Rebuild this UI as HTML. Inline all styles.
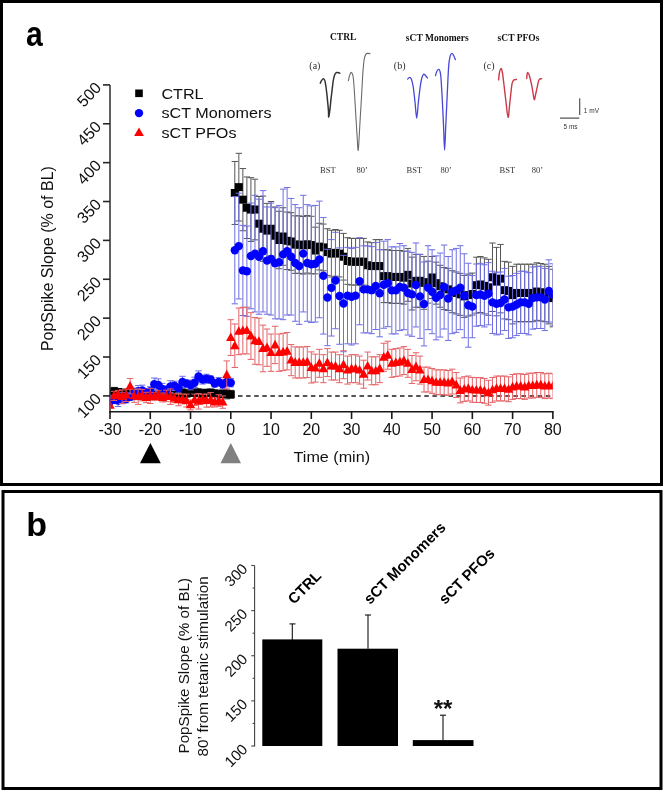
<!DOCTYPE html>
<html><head><meta charset="utf-8"><style>
html,body{margin:0;padding:0;background:#fff;}
body{width:663px;height:790px;overflow:hidden;}
svg{display:block;filter:blur(0.35px);}
.tl{font-family:"Liberation Sans",sans-serif;font-size:15.5px;fill:#111;}
.ty{font-family:"Liberation Sans",sans-serif;font-size:16px;fill:#111;}
.tb{font-family:"Liberation Sans",sans-serif;font-size:15px;fill:#111;}
.sans{font-family:"Liberation Sans",sans-serif;}
.serif{font-family:"Liberation Serif",serif;}
</style></head><body>
<svg width="663" height="790" viewBox="0 0 663 790">
<rect x="0" y="0" width="663" height="790" fill="#fff"/>
<!-- panel frames -->
<rect x="1.5" y="1.5" width="660" height="483" fill="none" stroke="#000" stroke-width="3"/>
<rect x="3" y="491.5" width="658" height="297" fill="none" stroke="#000" stroke-width="3"/>
<text transform="translate(26.1,46.4) scale(0.86,0.98)" class="sans" font-weight="bold" font-size="35" fill="#000">a</text>
<text x="26.2" y="535.5" class="sans" font-weight="bold" font-size="34" fill="#000">b</text>

<!-- y label a -->
<text transform="translate(53.2,258.6) rotate(-90)" text-anchor="middle" class="sans" font-size="16" fill="#111">PopSpike Slope (% of BL)</text>

<line x1="110" y1="84.90" x2="110" y2="412.4" stroke="#505050" stroke-width="1.8"/>
<line x1="109.2" y1="411.7" x2="553.66" y2="411.7" stroke="#1a1a1a" stroke-width="1.6"/>
<line x1="103" y1="395.90" x2="110" y2="395.90" stroke="#262626" stroke-width="1.6"/>
<text transform="translate(102.3,399.70) rotate(-46)" text-anchor="end" class="ty">100</text>
<line x1="103" y1="357.02" x2="110" y2="357.02" stroke="#262626" stroke-width="1.6"/>
<text transform="translate(102.3,360.82) rotate(-46)" text-anchor="end" class="ty">150</text>
<line x1="103" y1="318.15" x2="110" y2="318.15" stroke="#262626" stroke-width="1.6"/>
<text transform="translate(102.3,321.95) rotate(-46)" text-anchor="end" class="ty">200</text>
<line x1="103" y1="279.27" x2="110" y2="279.27" stroke="#262626" stroke-width="1.6"/>
<text transform="translate(102.3,283.07) rotate(-46)" text-anchor="end" class="ty">250</text>
<line x1="103" y1="240.40" x2="110" y2="240.40" stroke="#262626" stroke-width="1.6"/>
<text transform="translate(102.3,244.20) rotate(-46)" text-anchor="end" class="ty">300</text>
<line x1="103" y1="201.52" x2="110" y2="201.52" stroke="#262626" stroke-width="1.6"/>
<text transform="translate(102.3,205.32) rotate(-46)" text-anchor="end" class="ty">350</text>
<line x1="103" y1="162.65" x2="110" y2="162.65" stroke="#262626" stroke-width="1.6"/>
<text transform="translate(102.3,166.45) rotate(-46)" text-anchor="end" class="ty">400</text>
<line x1="103" y1="123.77" x2="110" y2="123.77" stroke="#262626" stroke-width="1.6"/>
<text transform="translate(102.3,127.57) rotate(-46)" text-anchor="end" class="ty">450</text>
<line x1="103" y1="84.90" x2="110" y2="84.90" stroke="#262626" stroke-width="1.6"/>
<text transform="translate(102.3,88.70) rotate(-46)" text-anchor="end" class="ty">500</text>
<line x1="110.00" y1="411.7" x2="110.00" y2="419" stroke="#1a1a1a" stroke-width="1.6"/>
<text x="110.00" y="435.2" text-anchor="middle" class="ty">-30</text>
<line x1="150.26" y1="411.7" x2="150.26" y2="419" stroke="#1a1a1a" stroke-width="1.6"/>
<text x="150.26" y="435.2" text-anchor="middle" class="ty">-20</text>
<line x1="190.52" y1="411.7" x2="190.52" y2="419" stroke="#1a1a1a" stroke-width="1.6"/>
<text x="190.52" y="435.2" text-anchor="middle" class="ty">-10</text>
<line x1="230.78" y1="411.7" x2="230.78" y2="419" stroke="#1a1a1a" stroke-width="1.6"/>
<text x="230.78" y="435.2" text-anchor="middle" class="ty">0</text>
<line x1="271.04" y1="411.7" x2="271.04" y2="419" stroke="#1a1a1a" stroke-width="1.6"/>
<text x="271.04" y="435.2" text-anchor="middle" class="ty">10</text>
<line x1="311.30" y1="411.7" x2="311.30" y2="419" stroke="#1a1a1a" stroke-width="1.6"/>
<text x="311.30" y="435.2" text-anchor="middle" class="ty">20</text>
<line x1="351.56" y1="411.7" x2="351.56" y2="419" stroke="#1a1a1a" stroke-width="1.6"/>
<text x="351.56" y="435.2" text-anchor="middle" class="ty">30</text>
<line x1="391.82" y1="411.7" x2="391.82" y2="419" stroke="#1a1a1a" stroke-width="1.6"/>
<text x="391.82" y="435.2" text-anchor="middle" class="ty">40</text>
<line x1="432.08" y1="411.7" x2="432.08" y2="419" stroke="#1a1a1a" stroke-width="1.6"/>
<text x="432.08" y="435.2" text-anchor="middle" class="ty">50</text>
<line x1="472.34" y1="411.7" x2="472.34" y2="419" stroke="#1a1a1a" stroke-width="1.6"/>
<text x="472.34" y="435.2" text-anchor="middle" class="ty">60</text>
<line x1="512.60" y1="411.7" x2="512.60" y2="419" stroke="#1a1a1a" stroke-width="1.6"/>
<text x="512.60" y="435.2" text-anchor="middle" class="ty">70</text>
<line x1="552.86" y1="411.7" x2="552.86" y2="419" stroke="#1a1a1a" stroke-width="1.6"/>
<text x="552.86" y="435.2" text-anchor="middle" class="ty">80</text>

<text transform="translate(331.8,462.4) scale(1.01,0.93)" text-anchor="middle" class="sans" font-size="16" fill="#111">Time (min)</text>

<!-- arrows -->
<path d="M150.4 443L160.8 463.2L140 463.2Z" fill="#000"/>
<path d="M230.8 443L241 463.2L220.5 463.2Z" fill="#808080"/>

<!-- legend -->
<rect x="135.2" y="89.5" width="7.6" height="7.6" fill="#000"/>
<circle cx="139" cy="113.1" r="4.2" fill="#0000ff"/>
<path d="M139 127.5L143.9 136L134.1 136Z" fill="#ff0000"/>
<text transform="translate(161.4,98.9) scale(1.01,0.89)" class="sans" font-size="16" fill="#111">CTRL</text>
<text transform="translate(161.4,118.1) scale(1.01,0.89)" class="sans" font-size="16" fill="#111">sCT Monomers</text>
<text transform="translate(161.4,137.8) scale(1.01,0.89)" class="sans" font-size="16" fill="#111">sCT PFOs</text>

<!-- insets -->
<g class="serif" font-weight="bold" font-size="9.5" fill="#111" text-anchor="middle">
<text x="343.2" y="40.3">CTRL</text>
<text x="437.3" y="40.5">sCT Monomers</text>
<text x="518.5" y="40.5">sCT PFOs</text>
</g>
<g class="serif" font-size="10" fill="#2e2e2e">
<text x="309.3" y="68.6">(a)</text>
<text x="393.8" y="68.6">(b)</text>
<text x="483.5" y="68.6">(c)</text>
</g>
<g class="serif" font-size="8.5" fill="#333">
<text x="320" y="173">BST</text>
<text x="356.5" y="173">80&#8217;</text>
<text x="406.5" y="173">BST</text>
<text x="440.5" y="173">80&#8217;</text>
<text x="499.5" y="173">BST</text>
<text x="531.8" y="173">80&#8217;</text>
</g>
<g fill="none" stroke-linecap="round" stroke-linejoin="round">
<path d="M320.30 83.20C320.50 82.77 320.98 81.33 321.50 80.60C322.02 79.87 322.83 78.75 323.40 78.80C323.97 78.85 324.47 79.53 324.90 80.90C325.33 82.27 325.65 84.58 326.00 87.00C326.35 89.42 326.68 92.48 327.00 95.40C327.32 98.32 327.65 101.85 327.90 104.50C328.15 107.15 328.37 109.22 328.50 111.30C328.63 113.38 328.48 117.12 328.70 117.00C328.92 116.88 329.42 113.57 329.80 110.60C330.18 107.63 330.62 102.63 331.00 99.20C331.38 95.77 331.73 93.03 332.10 90.00C332.47 86.97 332.78 83.52 333.20 81.00C333.62 78.48 334.08 76.30 334.60 74.90C335.12 73.50 335.77 72.98 336.30 72.60C336.83 72.22 337.23 72.50 337.80 72.60C338.37 72.70 339.38 73.10 339.70 73.20" stroke="#333" stroke-width="1.5"/><path d="M348.40 80.60C348.62 79.68 349.20 76.47 349.70 75.10C350.20 73.73 350.83 72.17 351.40 72.40C351.97 72.63 352.63 73.78 353.10 76.50C353.57 79.22 353.85 83.95 354.20 88.70C354.55 93.45 354.82 98.67 355.20 105.00C355.58 111.33 356.12 120.37 356.50 126.70C356.88 133.03 357.22 139.05 357.50 143.00C357.78 146.95 357.95 150.85 358.20 150.40C358.45 149.95 358.67 145.60 359.00 140.30C359.33 135.00 359.77 126.07 360.20 118.60C360.63 111.13 361.15 103.20 361.60 95.50C362.05 87.80 362.45 78.50 362.90 72.40C363.35 66.30 363.78 61.95 364.30 58.90C364.82 55.85 365.37 55.02 366.00 54.10C366.63 53.18 367.42 53.47 368.10 53.40C368.78 53.33 369.77 53.65 370.10 53.70" stroke="#6a6a6a" stroke-width="1.1"/><path d="M407.70 79.10C408.00 78.80 408.90 77.32 409.50 77.30C410.10 77.28 410.68 77.42 411.30 79.00C411.92 80.58 412.58 82.97 413.20 86.80C413.82 90.63 414.42 96.78 415.00 102.00C415.58 107.22 416.13 118.10 416.70 118.10C417.27 118.10 417.82 107.22 418.40 102.00C418.98 96.78 419.63 90.80 420.20 86.80C420.77 82.80 421.22 80.10 421.80 78.00C422.38 75.90 423.08 74.62 423.70 74.20C424.32 73.78 424.88 74.87 425.50 75.50C426.12 76.13 427.08 77.58 427.40 78.00" stroke="#4848d8" stroke-width="1.3"/><path d="M435.50 75.60C435.75 74.83 436.42 72.03 437.00 71.00C437.58 69.97 438.45 69.15 439.00 69.40C439.55 69.65 439.95 70.77 440.30 72.50C440.65 74.23 440.77 75.22 441.10 79.80C441.43 84.38 441.90 92.47 442.30 100.00C442.70 107.53 443.12 116.63 443.50 125.00C443.88 133.37 444.22 150.20 444.60 150.20C444.98 150.20 445.37 134.20 445.80 125.00C446.23 115.80 446.72 104.85 447.20 95.00C447.68 85.15 448.20 72.40 448.70 65.90C449.20 59.40 449.67 58.08 450.20 56.00C450.73 53.92 451.33 53.48 451.90 53.40C452.47 53.32 453.02 54.47 453.60 55.50C454.18 56.53 455.10 58.92 455.40 59.60" stroke="#4848d8" stroke-width="1.3"/><path d="M498.60 79.90C498.73 78.75 499.02 74.88 499.40 73.00C499.78 71.12 500.42 68.77 500.90 68.60C501.38 68.43 501.78 69.27 502.30 72.00C502.82 74.73 503.38 80.00 504.00 85.00C504.62 90.00 505.32 96.60 506.00 102.00C506.68 107.40 507.47 117.23 508.10 117.40C508.73 117.57 509.20 108.27 509.80 103.00C510.40 97.73 511.20 89.38 511.70 85.80C512.20 82.22 512.42 82.48 512.80 81.50C513.18 80.52 513.40 80.25 514.00 79.90C514.60 79.55 516.00 79.48 516.40 79.40" stroke="#cc3a48" stroke-width="1.4"/><path d="M526.70 78.50C526.75 77.92 526.82 75.98 527.00 75.00C527.18 74.02 527.38 72.43 527.80 72.60C528.22 72.77 528.87 73.95 529.50 76.00C530.13 78.05 531.02 82.07 531.60 84.90C532.18 87.73 532.55 90.52 533.00 93.00C533.45 95.48 533.85 99.63 534.30 99.80C534.75 99.97 535.23 96.03 535.70 94.00C536.17 91.97 536.68 89.52 537.10 87.60C537.52 85.68 537.83 83.87 538.20 82.50C538.57 81.13 538.73 80.03 539.30 79.40C539.87 78.77 541.22 78.82 541.60 78.70" stroke="#cc3a48" stroke-width="1.4"/>
</g>
<!-- scale bar -->
<path d="M579.7 98.3V115M560 118.2H579.3" stroke="#555" stroke-width="1.2" fill="none"/>
<text x="583.8" y="112.6" class="sans" font-size="6.5" fill="#333">1 mV</text>
<text x="563.5" y="129.4" class="sans" font-size="6.5" fill="#333">5 ms</text>

<!-- data -->
<defs><clipPath id="pc"><rect x="110.6" y="60" width="442.1" height="351"/></clipPath></defs>
<g clip-path="url(#pc)">
<line x1="238" y1="395.90" x2="553" y2="395.90" stroke="#555" stroke-width="2" stroke-dasharray="4.5 3.6"/>
<g stroke="#555" stroke-width="1"><line x1="110.00" y1="392.79" x2="110.00" y2="389.25"/><line x1="106.80" y1="389.25" x2="113.20" y2="389.25"/><line x1="110.00" y1="392.79" x2="110.00" y2="396.33"/><line x1="106.80" y1="396.33" x2="113.20" y2="396.33"/><line x1="114.03" y1="391.23" x2="114.03" y2="387.38"/><line x1="110.83" y1="387.38" x2="117.23" y2="387.38"/><line x1="114.03" y1="391.23" x2="114.03" y2="395.09"/><line x1="110.83" y1="395.09" x2="117.23" y2="395.09"/><line x1="118.05" y1="392.01" x2="118.05" y2="389.14"/><line x1="114.85" y1="389.14" x2="121.25" y2="389.14"/><line x1="118.05" y1="392.01" x2="118.05" y2="394.88"/><line x1="114.85" y1="394.88" x2="121.25" y2="394.88"/><line x1="122.08" y1="392.79" x2="122.08" y2="389.11"/><line x1="118.88" y1="389.11" x2="125.28" y2="389.11"/><line x1="122.08" y1="392.79" x2="122.08" y2="396.47"/><line x1="118.88" y1="396.47" x2="125.28" y2="396.47"/><line x1="126.10" y1="393.57" x2="126.10" y2="391.03"/><line x1="122.90" y1="391.03" x2="129.30" y2="391.03"/><line x1="126.10" y1="393.57" x2="126.10" y2="396.11"/><line x1="122.90" y1="396.11" x2="129.30" y2="396.11"/><line x1="130.13" y1="394.34" x2="130.13" y2="391.29"/><line x1="126.93" y1="391.29" x2="133.33" y2="391.29"/><line x1="130.13" y1="394.34" x2="130.13" y2="397.40"/><line x1="126.93" y1="397.40" x2="133.33" y2="397.40"/><line x1="134.16" y1="395.12" x2="134.16" y2="390.73"/><line x1="130.96" y1="390.73" x2="137.36" y2="390.73"/><line x1="134.16" y1="395.12" x2="134.16" y2="399.52"/><line x1="130.96" y1="399.52" x2="137.36" y2="399.52"/><line x1="138.18" y1="395.12" x2="138.18" y2="390.63"/><line x1="134.98" y1="390.63" x2="141.38" y2="390.63"/><line x1="138.18" y1="395.12" x2="138.18" y2="399.61"/><line x1="134.98" y1="399.61" x2="141.38" y2="399.61"/><line x1="142.21" y1="394.34" x2="142.21" y2="390.77"/><line x1="139.01" y1="390.77" x2="145.41" y2="390.77"/><line x1="142.21" y1="394.34" x2="142.21" y2="397.92"/><line x1="139.01" y1="397.92" x2="145.41" y2="397.92"/><line x1="146.23" y1="395.12" x2="146.23" y2="391.15"/><line x1="143.03" y1="391.15" x2="149.43" y2="391.15"/><line x1="146.23" y1="395.12" x2="146.23" y2="399.10"/><line x1="143.03" y1="399.10" x2="149.43" y2="399.10"/><line x1="150.26" y1="395.12" x2="150.26" y2="392.42"/><line x1="147.06" y1="392.42" x2="153.46" y2="392.42"/><line x1="150.26" y1="395.12" x2="150.26" y2="397.83"/><line x1="147.06" y1="397.83" x2="153.46" y2="397.83"/><line x1="154.29" y1="394.34" x2="154.29" y2="390.66"/><line x1="151.09" y1="390.66" x2="157.49" y2="390.66"/><line x1="154.29" y1="394.34" x2="154.29" y2="398.03"/><line x1="151.09" y1="398.03" x2="157.49" y2="398.03"/><line x1="158.31" y1="394.34" x2="158.31" y2="389.72"/><line x1="155.11" y1="389.72" x2="161.51" y2="389.72"/><line x1="158.31" y1="394.34" x2="158.31" y2="398.97"/><line x1="155.11" y1="398.97" x2="161.51" y2="398.97"/><line x1="162.34" y1="395.12" x2="162.34" y2="392.50"/><line x1="159.14" y1="392.50" x2="165.54" y2="392.50"/><line x1="162.34" y1="395.12" x2="162.34" y2="397.75"/><line x1="159.14" y1="397.75" x2="165.54" y2="397.75"/><line x1="166.36" y1="395.90" x2="166.36" y2="392.35"/><line x1="163.16" y1="392.35" x2="169.56" y2="392.35"/><line x1="166.36" y1="395.90" x2="166.36" y2="399.45"/><line x1="163.16" y1="399.45" x2="169.56" y2="399.45"/><line x1="170.39" y1="395.12" x2="170.39" y2="392.72"/><line x1="167.19" y1="392.72" x2="173.59" y2="392.72"/><line x1="170.39" y1="395.12" x2="170.39" y2="397.53"/><line x1="167.19" y1="397.53" x2="173.59" y2="397.53"/><line x1="174.42" y1="394.34" x2="174.42" y2="390.73"/><line x1="171.22" y1="390.73" x2="177.62" y2="390.73"/><line x1="174.42" y1="394.34" x2="174.42" y2="397.96"/><line x1="171.22" y1="397.96" x2="177.62" y2="397.96"/><line x1="178.44" y1="393.57" x2="178.44" y2="388.95"/><line x1="175.24" y1="388.95" x2="181.64" y2="388.95"/><line x1="178.44" y1="393.57" x2="178.44" y2="398.19"/><line x1="175.24" y1="398.19" x2="181.64" y2="398.19"/><line x1="182.47" y1="392.79" x2="182.47" y2="388.23"/><line x1="179.27" y1="388.23" x2="185.67" y2="388.23"/><line x1="182.47" y1="392.79" x2="182.47" y2="397.35"/><line x1="179.27" y1="397.35" x2="185.67" y2="397.35"/><line x1="186.49" y1="393.57" x2="186.49" y2="390.58"/><line x1="183.29" y1="390.58" x2="189.69" y2="390.58"/><line x1="186.49" y1="393.57" x2="186.49" y2="396.56"/><line x1="183.29" y1="396.56" x2="189.69" y2="396.56"/><line x1="190.52" y1="392.79" x2="190.52" y2="389.50"/><line x1="187.32" y1="389.50" x2="193.72" y2="389.50"/><line x1="190.52" y1="392.79" x2="190.52" y2="396.08"/><line x1="187.32" y1="396.08" x2="193.72" y2="396.08"/><line x1="194.55" y1="392.01" x2="194.55" y2="387.62"/><line x1="191.35" y1="387.62" x2="197.75" y2="387.62"/><line x1="194.55" y1="392.01" x2="194.55" y2="396.40"/><line x1="191.35" y1="396.40" x2="197.75" y2="396.40"/><line x1="198.57" y1="392.79" x2="198.57" y2="388.60"/><line x1="195.37" y1="388.60" x2="201.77" y2="388.60"/><line x1="198.57" y1="392.79" x2="198.57" y2="396.98"/><line x1="195.37" y1="396.98" x2="201.77" y2="396.98"/><line x1="202.60" y1="393.57" x2="202.60" y2="389.81"/><line x1="199.40" y1="389.81" x2="205.80" y2="389.81"/><line x1="202.60" y1="393.57" x2="202.60" y2="397.32"/><line x1="199.40" y1="397.32" x2="205.80" y2="397.32"/><line x1="206.62" y1="392.79" x2="206.62" y2="389.36"/><line x1="203.42" y1="389.36" x2="209.82" y2="389.36"/><line x1="206.62" y1="392.79" x2="206.62" y2="396.22"/><line x1="203.42" y1="396.22" x2="209.82" y2="396.22"/><line x1="210.65" y1="392.79" x2="210.65" y2="388.88"/><line x1="207.45" y1="388.88" x2="213.85" y2="388.88"/><line x1="210.65" y1="392.79" x2="210.65" y2="396.70"/><line x1="207.45" y1="396.70" x2="213.85" y2="396.70"/><line x1="214.68" y1="393.57" x2="214.68" y2="389.81"/><line x1="211.48" y1="389.81" x2="217.88" y2="389.81"/><line x1="214.68" y1="393.57" x2="214.68" y2="397.32"/><line x1="211.48" y1="397.32" x2="217.88" y2="397.32"/><line x1="218.70" y1="394.34" x2="218.70" y2="391.67"/><line x1="215.50" y1="391.67" x2="221.90" y2="391.67"/><line x1="218.70" y1="394.34" x2="218.70" y2="397.02"/><line x1="215.50" y1="397.02" x2="221.90" y2="397.02"/><line x1="222.73" y1="393.57" x2="222.73" y2="390.06"/><line x1="219.53" y1="390.06" x2="225.93" y2="390.06"/><line x1="222.73" y1="393.57" x2="222.73" y2="397.07"/><line x1="219.53" y1="397.07" x2="225.93" y2="397.07"/><line x1="226.75" y1="394.34" x2="226.75" y2="389.74"/><line x1="223.55" y1="389.74" x2="229.95" y2="389.74"/><line x1="226.75" y1="394.34" x2="226.75" y2="398.95"/><line x1="223.55" y1="398.95" x2="229.95" y2="398.95"/><line x1="230.78" y1="394.34" x2="230.78" y2="390.33"/><line x1="227.58" y1="390.33" x2="233.98" y2="390.33"/><line x1="230.78" y1="394.34" x2="230.78" y2="398.36"/><line x1="227.58" y1="398.36" x2="233.98" y2="398.36"/><line x1="234.81" y1="192.97" x2="234.81" y2="161.48"/><line x1="231.61" y1="161.48" x2="238.01" y2="161.48"/><line x1="234.81" y1="192.97" x2="234.81" y2="224.46"/><line x1="231.61" y1="224.46" x2="238.01" y2="224.46"/><line x1="238.83" y1="187.14" x2="238.83" y2="153.32"/><line x1="235.63" y1="153.32" x2="242.03" y2="153.32"/><line x1="238.83" y1="187.14" x2="238.83" y2="220.96"/><line x1="235.63" y1="220.96" x2="242.03" y2="220.96"/><line x1="242.86" y1="199.66" x2="242.86" y2="168.56"/><line x1="239.66" y1="168.56" x2="246.06" y2="168.56"/><line x1="242.86" y1="199.66" x2="242.86" y2="230.76"/><line x1="239.66" y1="230.76" x2="246.06" y2="230.76"/><line x1="246.88" y1="207.74" x2="246.88" y2="176.96"/><line x1="243.68" y1="176.96" x2="250.08" y2="176.96"/><line x1="246.88" y1="207.74" x2="246.88" y2="238.53"/><line x1="243.68" y1="238.53" x2="250.08" y2="238.53"/><line x1="250.91" y1="209.53" x2="250.91" y2="177.66"/><line x1="247.71" y1="177.66" x2="254.11" y2="177.66"/><line x1="250.91" y1="209.53" x2="250.91" y2="241.41"/><line x1="247.71" y1="241.41" x2="254.11" y2="241.41"/><line x1="254.94" y1="209.53" x2="254.94" y2="179.21"/><line x1="251.74" y1="179.21" x2="258.14" y2="179.21"/><line x1="254.94" y1="209.53" x2="254.94" y2="239.86"/><line x1="251.74" y1="239.86" x2="258.14" y2="239.86"/><line x1="258.96" y1="223.68" x2="258.96" y2="196.47"/><line x1="255.76" y1="196.47" x2="262.16" y2="196.47"/><line x1="258.96" y1="223.68" x2="258.96" y2="250.90"/><line x1="255.76" y1="250.90" x2="262.16" y2="250.90"/><line x1="262.99" y1="228.74" x2="262.99" y2="196.08"/><line x1="259.79" y1="196.08" x2="266.19" y2="196.08"/><line x1="262.99" y1="228.74" x2="262.99" y2="261.39"/><line x1="259.79" y1="261.39" x2="266.19" y2="261.39"/><line x1="267.01" y1="230.60" x2="267.01" y2="203.39"/><line x1="263.81" y1="203.39" x2="270.21" y2="203.39"/><line x1="267.01" y1="230.60" x2="267.01" y2="257.82"/><line x1="263.81" y1="257.82" x2="270.21" y2="257.82"/><line x1="271.04" y1="228.74" x2="271.04" y2="201.52"/><line x1="267.84" y1="201.52" x2="274.24" y2="201.52"/><line x1="271.04" y1="228.74" x2="271.04" y2="255.95"/><line x1="267.84" y1="255.95" x2="274.24" y2="255.95"/><line x1="275.07" y1="235.73" x2="275.07" y2="206.97"/><line x1="271.87" y1="206.97" x2="278.27" y2="206.97"/><line x1="275.07" y1="235.73" x2="275.07" y2="264.50"/><line x1="271.87" y1="264.50" x2="278.27" y2="264.50"/><line x1="279.09" y1="240.01" x2="279.09" y2="211.24"/><line x1="275.89" y1="211.24" x2="282.29" y2="211.24"/><line x1="279.09" y1="240.01" x2="279.09" y2="268.78"/><line x1="275.89" y1="268.78" x2="282.29" y2="268.78"/><line x1="283.12" y1="236.51" x2="283.12" y2="207.74"/><line x1="279.92" y1="207.74" x2="286.32" y2="207.74"/><line x1="283.12" y1="236.51" x2="283.12" y2="265.28"/><line x1="279.92" y1="265.28" x2="286.32" y2="265.28"/><line x1="287.14" y1="240.79" x2="287.14" y2="212.02"/><line x1="283.94" y1="212.02" x2="290.34" y2="212.02"/><line x1="287.14" y1="240.79" x2="287.14" y2="269.56"/><line x1="283.94" y1="269.56" x2="290.34" y2="269.56"/><line x1="291.17" y1="241.49" x2="291.17" y2="212.72"/><line x1="287.97" y1="212.72" x2="294.37" y2="212.72"/><line x1="291.17" y1="241.49" x2="291.17" y2="270.26"/><line x1="287.97" y1="270.26" x2="294.37" y2="270.26"/><line x1="295.20" y1="244.60" x2="295.20" y2="215.83"/><line x1="292.00" y1="215.83" x2="298.40" y2="215.83"/><line x1="295.20" y1="244.60" x2="295.20" y2="273.37"/><line x1="292.00" y1="273.37" x2="298.40" y2="273.37"/><line x1="299.22" y1="244.60" x2="299.22" y2="215.83"/><line x1="296.02" y1="215.83" x2="302.42" y2="215.83"/><line x1="299.22" y1="244.60" x2="299.22" y2="273.37"/><line x1="296.02" y1="273.37" x2="302.42" y2="273.37"/><line x1="303.25" y1="245.30" x2="303.25" y2="216.53"/><line x1="300.05" y1="216.53" x2="306.45" y2="216.53"/><line x1="303.25" y1="245.30" x2="303.25" y2="274.07"/><line x1="300.05" y1="274.07" x2="306.45" y2="274.07"/><line x1="307.27" y1="244.29" x2="307.27" y2="215.52"/><line x1="304.07" y1="215.52" x2="310.47" y2="215.52"/><line x1="307.27" y1="244.29" x2="307.27" y2="273.05"/><line x1="304.07" y1="273.05" x2="310.47" y2="273.05"/><line x1="311.30" y1="245.06" x2="311.30" y2="216.30"/><line x1="308.10" y1="216.30" x2="314.50" y2="216.30"/><line x1="311.30" y1="245.06" x2="311.30" y2="273.83"/><line x1="308.10" y1="273.83" x2="314.50" y2="273.83"/><line x1="315.33" y1="250.51" x2="315.33" y2="227.18"/><line x1="312.13" y1="227.18" x2="318.53" y2="227.18"/><line x1="315.33" y1="250.51" x2="315.33" y2="273.83"/><line x1="312.13" y1="273.83" x2="318.53" y2="273.83"/><line x1="319.35" y1="246.62" x2="319.35" y2="223.29"/><line x1="316.15" y1="223.29" x2="322.55" y2="223.29"/><line x1="319.35" y1="246.62" x2="319.35" y2="269.94"/><line x1="316.15" y1="269.94" x2="322.55" y2="269.94"/><line x1="323.38" y1="247.40" x2="323.38" y2="224.07"/><line x1="320.18" y1="224.07" x2="326.58" y2="224.07"/><line x1="323.38" y1="247.40" x2="323.38" y2="270.72"/><line x1="320.18" y1="270.72" x2="326.58" y2="270.72"/><line x1="327.40" y1="252.06" x2="327.40" y2="228.74"/><line x1="324.20" y1="228.74" x2="330.60" y2="228.74"/><line x1="327.40" y1="252.06" x2="327.40" y2="275.39"/><line x1="324.20" y1="275.39" x2="330.60" y2="275.39"/><line x1="331.43" y1="253.62" x2="331.43" y2="230.29"/><line x1="328.23" y1="230.29" x2="334.63" y2="230.29"/><line x1="331.43" y1="253.62" x2="331.43" y2="276.94"/><line x1="328.23" y1="276.94" x2="334.63" y2="276.94"/><line x1="335.46" y1="252.84" x2="335.46" y2="229.51"/><line x1="332.26" y1="229.51" x2="338.66" y2="229.51"/><line x1="335.46" y1="252.84" x2="335.46" y2="276.16"/><line x1="332.26" y1="276.16" x2="338.66" y2="276.16"/><line x1="339.48" y1="253.62" x2="339.48" y2="230.29"/><line x1="336.28" y1="230.29" x2="342.68" y2="230.29"/><line x1="339.48" y1="253.62" x2="339.48" y2="276.94"/><line x1="336.28" y1="276.94" x2="342.68" y2="276.94"/><line x1="343.51" y1="256.73" x2="343.51" y2="233.40"/><line x1="340.31" y1="233.40" x2="346.71" y2="233.40"/><line x1="343.51" y1="256.73" x2="343.51" y2="280.05"/><line x1="340.31" y1="280.05" x2="346.71" y2="280.05"/><line x1="347.53" y1="261.00" x2="347.53" y2="237.68"/><line x1="344.33" y1="237.68" x2="350.73" y2="237.68"/><line x1="347.53" y1="261.00" x2="347.53" y2="284.33"/><line x1="344.33" y1="284.33" x2="350.73" y2="284.33"/><line x1="351.56" y1="261.70" x2="351.56" y2="238.38"/><line x1="348.36" y1="238.38" x2="354.76" y2="238.38"/><line x1="351.56" y1="261.70" x2="351.56" y2="285.03"/><line x1="348.36" y1="285.03" x2="354.76" y2="285.03"/><line x1="355.59" y1="261.70" x2="355.59" y2="238.38"/><line x1="352.39" y1="238.38" x2="358.79" y2="238.38"/><line x1="355.59" y1="261.70" x2="355.59" y2="285.03"/><line x1="352.39" y1="285.03" x2="358.79" y2="285.03"/><line x1="359.61" y1="261.70" x2="359.61" y2="238.38"/><line x1="356.41" y1="238.38" x2="362.81" y2="238.38"/><line x1="359.61" y1="261.70" x2="359.61" y2="285.03"/><line x1="356.41" y1="285.03" x2="362.81" y2="285.03"/><line x1="363.64" y1="261.70" x2="363.64" y2="238.38"/><line x1="360.44" y1="238.38" x2="366.84" y2="238.38"/><line x1="363.64" y1="261.70" x2="363.64" y2="285.03"/><line x1="360.44" y1="285.03" x2="366.84" y2="285.03"/><line x1="367.66" y1="265.28" x2="367.66" y2="241.95"/><line x1="364.46" y1="241.95" x2="370.86" y2="241.95"/><line x1="367.66" y1="265.28" x2="367.66" y2="288.60"/><line x1="364.46" y1="288.60" x2="370.86" y2="288.60"/><line x1="371.69" y1="266.06" x2="371.69" y2="242.73"/><line x1="368.49" y1="242.73" x2="374.89" y2="242.73"/><line x1="371.69" y1="266.06" x2="371.69" y2="289.38"/><line x1="368.49" y1="289.38" x2="374.89" y2="289.38"/><line x1="375.72" y1="266.06" x2="375.72" y2="239.62"/><line x1="372.52" y1="239.62" x2="378.92" y2="239.62"/><line x1="375.72" y1="266.06" x2="375.72" y2="292.49"/><line x1="372.52" y1="292.49" x2="378.92" y2="292.49"/><line x1="379.74" y1="266.06" x2="379.74" y2="239.62"/><line x1="376.54" y1="239.62" x2="382.94" y2="239.62"/><line x1="379.74" y1="266.06" x2="379.74" y2="292.49"/><line x1="376.54" y1="292.49" x2="382.94" y2="292.49"/><line x1="383.77" y1="276.16" x2="383.77" y2="249.73"/><line x1="380.57" y1="249.73" x2="386.97" y2="249.73"/><line x1="383.77" y1="276.16" x2="383.77" y2="302.60"/><line x1="380.57" y1="302.60" x2="386.97" y2="302.60"/><line x1="387.79" y1="276.16" x2="387.79" y2="249.73"/><line x1="384.59" y1="249.73" x2="390.99" y2="249.73"/><line x1="387.79" y1="276.16" x2="387.79" y2="302.60"/><line x1="384.59" y1="302.60" x2="390.99" y2="302.60"/><line x1="391.82" y1="276.94" x2="391.82" y2="250.51"/><line x1="388.62" y1="250.51" x2="395.02" y2="250.51"/><line x1="391.82" y1="276.94" x2="391.82" y2="303.38"/><line x1="388.62" y1="303.38" x2="395.02" y2="303.38"/><line x1="395.85" y1="276.94" x2="395.85" y2="250.51"/><line x1="392.65" y1="250.51" x2="399.05" y2="250.51"/><line x1="395.85" y1="276.94" x2="395.85" y2="303.38"/><line x1="392.65" y1="303.38" x2="399.05" y2="303.38"/><line x1="399.87" y1="276.94" x2="399.87" y2="250.51"/><line x1="396.67" y1="250.51" x2="403.07" y2="250.51"/><line x1="399.87" y1="276.94" x2="399.87" y2="303.38"/><line x1="396.67" y1="303.38" x2="403.07" y2="303.38"/><line x1="403.90" y1="277.72" x2="403.90" y2="251.28"/><line x1="400.70" y1="251.28" x2="407.10" y2="251.28"/><line x1="403.90" y1="277.72" x2="403.90" y2="304.15"/><line x1="400.70" y1="304.15" x2="407.10" y2="304.15"/><line x1="407.92" y1="274.84" x2="407.92" y2="248.41"/><line x1="404.72" y1="248.41" x2="411.12" y2="248.41"/><line x1="407.92" y1="274.84" x2="407.92" y2="301.28"/><line x1="404.72" y1="301.28" x2="411.12" y2="301.28"/><line x1="411.95" y1="283.55" x2="411.95" y2="257.12"/><line x1="408.75" y1="257.12" x2="415.15" y2="257.12"/><line x1="411.95" y1="283.55" x2="411.95" y2="309.99"/><line x1="408.75" y1="309.99" x2="415.15" y2="309.99"/><line x1="415.98" y1="280.83" x2="415.98" y2="254.39"/><line x1="412.78" y1="254.39" x2="419.18" y2="254.39"/><line x1="415.98" y1="280.83" x2="415.98" y2="307.26"/><line x1="412.78" y1="307.26" x2="419.18" y2="307.26"/><line x1="420.00" y1="280.83" x2="420.00" y2="254.39"/><line x1="416.80" y1="254.39" x2="423.20" y2="254.39"/><line x1="420.00" y1="280.83" x2="420.00" y2="307.26"/><line x1="416.80" y1="307.26" x2="423.20" y2="307.26"/><line x1="424.03" y1="282.85" x2="424.03" y2="256.42"/><line x1="420.83" y1="256.42" x2="427.23" y2="256.42"/><line x1="424.03" y1="282.85" x2="424.03" y2="309.29"/><line x1="420.83" y1="309.29" x2="427.23" y2="309.29"/><line x1="428.05" y1="282.15" x2="428.05" y2="261.16"/><line x1="424.85" y1="261.16" x2="431.25" y2="261.16"/><line x1="428.05" y1="282.15" x2="428.05" y2="303.14"/><line x1="424.85" y1="303.14" x2="431.25" y2="303.14"/><line x1="432.08" y1="277.49" x2="432.08" y2="256.49"/><line x1="428.88" y1="256.49" x2="435.28" y2="256.49"/><line x1="432.08" y1="277.49" x2="432.08" y2="298.48"/><line x1="428.88" y1="298.48" x2="435.28" y2="298.48"/><line x1="436.11" y1="283.16" x2="436.11" y2="262.17"/><line x1="432.91" y1="262.17" x2="439.31" y2="262.17"/><line x1="436.11" y1="283.16" x2="436.11" y2="304.15"/><line x1="432.91" y1="304.15" x2="439.31" y2="304.15"/><line x1="440.13" y1="286.27" x2="440.13" y2="265.28"/><line x1="436.93" y1="265.28" x2="443.33" y2="265.28"/><line x1="440.13" y1="286.27" x2="440.13" y2="307.26"/><line x1="436.93" y1="307.26" x2="443.33" y2="307.26"/><line x1="444.16" y1="288.60" x2="444.16" y2="267.61"/><line x1="440.96" y1="267.61" x2="447.36" y2="267.61"/><line x1="444.16" y1="288.60" x2="444.16" y2="309.60"/><line x1="440.96" y1="309.60" x2="447.36" y2="309.60"/><line x1="448.18" y1="289.38" x2="448.18" y2="268.39"/><line x1="444.98" y1="268.39" x2="451.38" y2="268.39"/><line x1="448.18" y1="289.38" x2="448.18" y2="310.38"/><line x1="444.98" y1="310.38" x2="451.38" y2="310.38"/><line x1="452.21" y1="291.71" x2="452.21" y2="270.72"/><line x1="449.01" y1="270.72" x2="455.41" y2="270.72"/><line x1="452.21" y1="291.71" x2="452.21" y2="312.71"/><line x1="449.01" y1="312.71" x2="455.41" y2="312.71"/><line x1="456.24" y1="292.96" x2="456.24" y2="271.97"/><line x1="453.04" y1="271.97" x2="459.44" y2="271.97"/><line x1="456.24" y1="292.96" x2="456.24" y2="313.95"/><line x1="453.04" y1="313.95" x2="459.44" y2="313.95"/><line x1="460.26" y1="294.36" x2="460.26" y2="273.37"/><line x1="457.06" y1="273.37" x2="463.46" y2="273.37"/><line x1="460.26" y1="294.36" x2="460.26" y2="315.35"/><line x1="457.06" y1="315.35" x2="463.46" y2="315.35"/><line x1="464.29" y1="296.38" x2="464.29" y2="275.39"/><line x1="461.09" y1="275.39" x2="467.49" y2="275.39"/><line x1="464.29" y1="296.38" x2="464.29" y2="317.37"/><line x1="461.09" y1="317.37" x2="467.49" y2="317.37"/><line x1="468.31" y1="295.06" x2="468.31" y2="274.07"/><line x1="465.11" y1="274.07" x2="471.51" y2="274.07"/><line x1="468.31" y1="295.06" x2="468.31" y2="316.05"/><line x1="465.11" y1="316.05" x2="471.51" y2="316.05"/><line x1="472.34" y1="294.05" x2="472.34" y2="273.05"/><line x1="469.14" y1="273.05" x2="475.54" y2="273.05"/><line x1="472.34" y1="294.05" x2="472.34" y2="315.04"/><line x1="469.14" y1="315.04" x2="475.54" y2="315.04"/><line x1="476.37" y1="285.18" x2="476.37" y2="257.19"/><line x1="473.17" y1="257.19" x2="479.57" y2="257.19"/><line x1="476.37" y1="285.18" x2="476.37" y2="313.17"/><line x1="473.17" y1="313.17" x2="479.57" y2="313.17"/><line x1="480.39" y1="284.48" x2="480.39" y2="256.49"/><line x1="477.19" y1="256.49" x2="483.59" y2="256.49"/><line x1="480.39" y1="284.48" x2="480.39" y2="312.47"/><line x1="477.19" y1="312.47" x2="483.59" y2="312.47"/><line x1="484.42" y1="285.88" x2="484.42" y2="257.89"/><line x1="481.22" y1="257.89" x2="487.62" y2="257.89"/><line x1="484.42" y1="285.88" x2="484.42" y2="313.87"/><line x1="481.22" y1="313.87" x2="487.62" y2="313.87"/><line x1="488.44" y1="287.28" x2="488.44" y2="259.29"/><line x1="485.24" y1="259.29" x2="491.64" y2="259.29"/><line x1="488.44" y1="287.28" x2="488.44" y2="315.27"/><line x1="485.24" y1="315.27" x2="491.64" y2="315.27"/><line x1="492.47" y1="277.25" x2="492.47" y2="243.04"/><line x1="489.27" y1="243.04" x2="495.67" y2="243.04"/><line x1="492.47" y1="277.25" x2="492.47" y2="311.46"/><line x1="489.27" y1="311.46" x2="495.67" y2="311.46"/><line x1="496.50" y1="281.61" x2="496.50" y2="247.40"/><line x1="493.30" y1="247.40" x2="499.70" y2="247.40"/><line x1="496.50" y1="281.61" x2="496.50" y2="315.82"/><line x1="493.30" y1="315.82" x2="499.70" y2="315.82"/><line x1="500.52" y1="278.65" x2="500.52" y2="244.44"/><line x1="497.32" y1="244.44" x2="503.72" y2="244.44"/><line x1="500.52" y1="278.65" x2="500.52" y2="312.86"/><line x1="497.32" y1="312.86" x2="503.72" y2="312.86"/><line x1="504.55" y1="290.16" x2="504.55" y2="261.39"/><line x1="501.35" y1="261.39" x2="507.75" y2="261.39"/><line x1="504.55" y1="290.16" x2="504.55" y2="318.93"/><line x1="501.35" y1="318.93" x2="507.75" y2="318.93"/><line x1="508.57" y1="290.94" x2="508.57" y2="262.17"/><line x1="505.37" y1="262.17" x2="511.77" y2="262.17"/><line x1="508.57" y1="290.94" x2="508.57" y2="319.70"/><line x1="505.37" y1="319.70" x2="511.77" y2="319.70"/><line x1="512.60" y1="295.14" x2="512.60" y2="266.37"/><line x1="509.40" y1="266.37" x2="515.80" y2="266.37"/><line x1="512.60" y1="295.14" x2="512.60" y2="323.90"/><line x1="509.40" y1="323.90" x2="515.80" y2="323.90"/><line x1="516.63" y1="292.96" x2="516.63" y2="264.19"/><line x1="513.43" y1="264.19" x2="519.83" y2="264.19"/><line x1="516.63" y1="292.96" x2="516.63" y2="321.73"/><line x1="513.43" y1="321.73" x2="519.83" y2="321.73"/><line x1="520.65" y1="292.96" x2="520.65" y2="264.19"/><line x1="517.45" y1="264.19" x2="523.85" y2="264.19"/><line x1="520.65" y1="292.96" x2="520.65" y2="321.73"/><line x1="517.45" y1="321.73" x2="523.85" y2="321.73"/><line x1="524.68" y1="292.96" x2="524.68" y2="264.19"/><line x1="521.48" y1="264.19" x2="527.88" y2="264.19"/><line x1="524.68" y1="292.96" x2="524.68" y2="321.73"/><line x1="521.48" y1="321.73" x2="527.88" y2="321.73"/><line x1="528.70" y1="292.96" x2="528.70" y2="264.19"/><line x1="525.50" y1="264.19" x2="531.90" y2="264.19"/><line x1="528.70" y1="292.96" x2="528.70" y2="321.73"/><line x1="525.50" y1="321.73" x2="531.90" y2="321.73"/><line x1="532.73" y1="292.96" x2="532.73" y2="264.19"/><line x1="529.53" y1="264.19" x2="535.93" y2="264.19"/><line x1="532.73" y1="292.96" x2="532.73" y2="321.73"/><line x1="529.53" y1="321.73" x2="535.93" y2="321.73"/><line x1="536.76" y1="291.56" x2="536.76" y2="262.79"/><line x1="533.56" y1="262.79" x2="539.96" y2="262.79"/><line x1="536.76" y1="291.56" x2="536.76" y2="320.33"/><line x1="533.56" y1="320.33" x2="539.96" y2="320.33"/><line x1="540.78" y1="292.26" x2="540.78" y2="263.49"/><line x1="537.58" y1="263.49" x2="543.98" y2="263.49"/><line x1="540.78" y1="292.26" x2="540.78" y2="321.03"/><line x1="537.58" y1="321.03" x2="543.98" y2="321.03"/><line x1="544.81" y1="292.96" x2="544.81" y2="264.19"/><line x1="541.61" y1="264.19" x2="548.01" y2="264.19"/><line x1="544.81" y1="292.96" x2="544.81" y2="321.73"/><line x1="541.61" y1="321.73" x2="548.01" y2="321.73"/><line x1="548.83" y1="295.14" x2="548.83" y2="266.37"/><line x1="545.63" y1="266.37" x2="552.03" y2="266.37"/><line x1="548.83" y1="295.14" x2="548.83" y2="323.90"/><line x1="545.63" y1="323.90" x2="552.03" y2="323.90"/><line x1="552.86" y1="298.09" x2="552.86" y2="269.32"/><line x1="549.66" y1="269.32" x2="556.06" y2="269.32"/><line x1="552.86" y1="298.09" x2="552.86" y2="326.86"/><line x1="549.66" y1="326.86" x2="556.06" y2="326.86"/></g>
<g fill="#000"><rect x="106.00" y="388.79" width="8" height="8"/><rect x="110.03" y="387.23" width="8" height="8"/><rect x="114.05" y="388.01" width="8" height="8"/><rect x="118.08" y="388.79" width="8" height="8"/><rect x="122.10" y="389.57" width="8" height="8"/><rect x="126.13" y="390.34" width="8" height="8"/><rect x="130.16" y="391.12" width="8" height="8"/><rect x="134.18" y="391.12" width="8" height="8"/><rect x="138.21" y="390.34" width="8" height="8"/><rect x="142.23" y="391.12" width="8" height="8"/><rect x="146.26" y="391.12" width="8" height="8"/><rect x="150.29" y="390.34" width="8" height="8"/><rect x="154.31" y="390.34" width="8" height="8"/><rect x="158.34" y="391.12" width="8" height="8"/><rect x="162.36" y="391.90" width="8" height="8"/><rect x="166.39" y="391.12" width="8" height="8"/><rect x="170.42" y="390.34" width="8" height="8"/><rect x="174.44" y="389.57" width="8" height="8"/><rect x="178.47" y="388.79" width="8" height="8"/><rect x="182.49" y="389.57" width="8" height="8"/><rect x="186.52" y="388.79" width="8" height="8"/><rect x="190.55" y="388.01" width="8" height="8"/><rect x="194.57" y="388.79" width="8" height="8"/><rect x="198.60" y="389.57" width="8" height="8"/><rect x="202.62" y="388.79" width="8" height="8"/><rect x="206.65" y="388.79" width="8" height="8"/><rect x="210.68" y="389.57" width="8" height="8"/><rect x="214.70" y="390.34" width="8" height="8"/><rect x="218.73" y="389.57" width="8" height="8"/><rect x="222.75" y="390.34" width="8" height="8"/><rect x="226.78" y="390.34" width="8" height="8"/><rect x="230.81" y="188.97" width="8" height="8"/><rect x="234.83" y="183.14" width="8" height="8"/><rect x="238.86" y="195.66" width="8" height="8"/><rect x="242.88" y="203.74" width="8" height="8"/><rect x="246.91" y="205.53" width="8" height="8"/><rect x="250.94" y="205.53" width="8" height="8"/><rect x="254.96" y="219.68" width="8" height="8"/><rect x="258.99" y="224.74" width="8" height="8"/><rect x="263.01" y="226.60" width="8" height="8"/><rect x="267.04" y="224.74" width="8" height="8"/><rect x="271.07" y="231.73" width="8" height="8"/><rect x="275.09" y="236.01" width="8" height="8"/><rect x="279.12" y="232.51" width="8" height="8"/><rect x="283.14" y="236.79" width="8" height="8"/><rect x="287.17" y="237.49" width="8" height="8"/><rect x="291.20" y="240.60" width="8" height="8"/><rect x="295.22" y="240.60" width="8" height="8"/><rect x="299.25" y="241.30" width="8" height="8"/><rect x="303.27" y="240.29" width="8" height="8"/><rect x="307.30" y="241.06" width="8" height="8"/><rect x="311.33" y="246.51" width="8" height="8"/><rect x="315.35" y="242.62" width="8" height="8"/><rect x="319.38" y="243.40" width="8" height="8"/><rect x="323.40" y="248.06" width="8" height="8"/><rect x="327.43" y="249.62" width="8" height="8"/><rect x="331.46" y="248.84" width="8" height="8"/><rect x="335.48" y="249.62" width="8" height="8"/><rect x="339.51" y="252.73" width="8" height="8"/><rect x="343.53" y="257.00" width="8" height="8"/><rect x="347.56" y="257.70" width="8" height="8"/><rect x="351.59" y="257.70" width="8" height="8"/><rect x="355.61" y="257.70" width="8" height="8"/><rect x="359.64" y="257.70" width="8" height="8"/><rect x="363.66" y="261.28" width="8" height="8"/><rect x="367.69" y="262.06" width="8" height="8"/><rect x="371.72" y="262.06" width="8" height="8"/><rect x="375.74" y="262.06" width="8" height="8"/><rect x="379.77" y="272.16" width="8" height="8"/><rect x="383.79" y="272.16" width="8" height="8"/><rect x="387.82" y="272.94" width="8" height="8"/><rect x="391.85" y="272.94" width="8" height="8"/><rect x="395.87" y="272.94" width="8" height="8"/><rect x="399.90" y="273.72" width="8" height="8"/><rect x="403.92" y="270.84" width="8" height="8"/><rect x="407.95" y="279.55" width="8" height="8"/><rect x="411.98" y="276.83" width="8" height="8"/><rect x="416.00" y="276.83" width="8" height="8"/><rect x="420.03" y="278.85" width="8" height="8"/><rect x="424.05" y="278.15" width="8" height="8"/><rect x="428.08" y="273.49" width="8" height="8"/><rect x="432.11" y="279.16" width="8" height="8"/><rect x="436.13" y="282.27" width="8" height="8"/><rect x="440.16" y="284.60" width="8" height="8"/><rect x="444.18" y="285.38" width="8" height="8"/><rect x="448.21" y="287.71" width="8" height="8"/><rect x="452.24" y="288.96" width="8" height="8"/><rect x="456.26" y="290.36" width="8" height="8"/><rect x="460.29" y="292.38" width="8" height="8"/><rect x="464.31" y="291.06" width="8" height="8"/><rect x="468.34" y="290.05" width="8" height="8"/><rect x="472.37" y="281.18" width="8" height="8"/><rect x="476.39" y="280.48" width="8" height="8"/><rect x="480.42" y="281.88" width="8" height="8"/><rect x="484.44" y="283.28" width="8" height="8"/><rect x="488.47" y="273.25" width="8" height="8"/><rect x="492.50" y="277.61" width="8" height="8"/><rect x="496.52" y="274.65" width="8" height="8"/><rect x="500.55" y="286.16" width="8" height="8"/><rect x="504.57" y="286.94" width="8" height="8"/><rect x="508.60" y="291.14" width="8" height="8"/><rect x="512.63" y="288.96" width="8" height="8"/><rect x="516.65" y="288.96" width="8" height="8"/><rect x="520.68" y="288.96" width="8" height="8"/><rect x="524.70" y="288.96" width="8" height="8"/><rect x="528.73" y="288.96" width="8" height="8"/><rect x="532.76" y="287.56" width="8" height="8"/><rect x="536.78" y="288.26" width="8" height="8"/><rect x="540.81" y="288.96" width="8" height="8"/><rect x="544.83" y="291.14" width="8" height="8"/><rect x="548.86" y="294.09" width="8" height="8"/></g>
<g stroke="#6e6ee4" stroke-width="1"><line x1="110.00" y1="401.34" x2="110.00" y2="395.22"/><line x1="106.80" y1="395.22" x2="113.20" y2="395.22"/><line x1="110.00" y1="401.34" x2="110.00" y2="407.47"/><line x1="106.80" y1="407.47" x2="113.20" y2="407.47"/><line x1="114.03" y1="399.79" x2="114.03" y2="395.89"/><line x1="110.83" y1="395.89" x2="117.23" y2="395.89"/><line x1="114.03" y1="399.79" x2="114.03" y2="403.68"/><line x1="110.83" y1="403.68" x2="117.23" y2="403.68"/><line x1="118.05" y1="400.56" x2="118.05" y2="394.61"/><line x1="114.85" y1="394.61" x2="121.25" y2="394.61"/><line x1="118.05" y1="400.56" x2="118.05" y2="406.52"/><line x1="114.85" y1="406.52" x2="121.25" y2="406.52"/><line x1="122.08" y1="398.23" x2="122.08" y2="392.67"/><line x1="118.88" y1="392.67" x2="125.28" y2="392.67"/><line x1="122.08" y1="398.23" x2="122.08" y2="403.79"/><line x1="118.88" y1="403.79" x2="125.28" y2="403.79"/><line x1="126.10" y1="399.01" x2="126.10" y2="395.09"/><line x1="122.90" y1="395.09" x2="129.30" y2="395.09"/><line x1="126.10" y1="399.01" x2="126.10" y2="402.93"/><line x1="122.90" y1="402.93" x2="129.30" y2="402.93"/><line x1="130.13" y1="396.68" x2="130.13" y2="392.84"/><line x1="126.93" y1="392.84" x2="133.33" y2="392.84"/><line x1="130.13" y1="396.68" x2="130.13" y2="400.52"/><line x1="126.93" y1="400.52" x2="133.33" y2="400.52"/><line x1="134.16" y1="392.79" x2="134.16" y2="388.04"/><line x1="130.96" y1="388.04" x2="137.36" y2="388.04"/><line x1="134.16" y1="392.79" x2="134.16" y2="397.54"/><line x1="130.96" y1="397.54" x2="137.36" y2="397.54"/><line x1="138.18" y1="391.23" x2="138.18" y2="385.51"/><line x1="134.98" y1="385.51" x2="141.38" y2="385.51"/><line x1="138.18" y1="391.23" x2="138.18" y2="396.96"/><line x1="134.98" y1="396.96" x2="141.38" y2="396.96"/><line x1="142.21" y1="390.46" x2="142.21" y2="385.15"/><line x1="139.01" y1="385.15" x2="145.41" y2="385.15"/><line x1="142.21" y1="390.46" x2="142.21" y2="395.76"/><line x1="139.01" y1="395.76" x2="145.41" y2="395.76"/><line x1="146.23" y1="392.79" x2="146.23" y2="388.90"/><line x1="143.03" y1="388.90" x2="149.43" y2="388.90"/><line x1="146.23" y1="392.79" x2="146.23" y2="396.68"/><line x1="143.03" y1="396.68" x2="149.43" y2="396.68"/><line x1="150.26" y1="391.23" x2="150.26" y2="386.75"/><line x1="147.06" y1="386.75" x2="153.46" y2="386.75"/><line x1="150.26" y1="391.23" x2="150.26" y2="395.72"/><line x1="147.06" y1="395.72" x2="153.46" y2="395.72"/><line x1="154.29" y1="384.24" x2="154.29" y2="378.03"/><line x1="151.09" y1="378.03" x2="157.49" y2="378.03"/><line x1="154.29" y1="384.24" x2="154.29" y2="390.44"/><line x1="151.09" y1="390.44" x2="157.49" y2="390.44"/><line x1="158.31" y1="385.01" x2="158.31" y2="378.85"/><line x1="155.11" y1="378.85" x2="161.51" y2="378.85"/><line x1="158.31" y1="385.01" x2="158.31" y2="391.18"/><line x1="155.11" y1="391.18" x2="161.51" y2="391.18"/><line x1="162.34" y1="388.90" x2="162.34" y2="383.38"/><line x1="159.14" y1="383.38" x2="165.54" y2="383.38"/><line x1="162.34" y1="388.90" x2="162.34" y2="394.43"/><line x1="159.14" y1="394.43" x2="165.54" y2="394.43"/><line x1="166.36" y1="389.68" x2="166.36" y2="386.43"/><line x1="163.16" y1="386.43" x2="169.56" y2="386.43"/><line x1="166.36" y1="389.68" x2="166.36" y2="392.93"/><line x1="163.16" y1="392.93" x2="169.56" y2="392.93"/><line x1="170.39" y1="386.57" x2="170.39" y2="380.73"/><line x1="167.19" y1="380.73" x2="173.59" y2="380.73"/><line x1="170.39" y1="386.57" x2="170.39" y2="392.41"/><line x1="167.19" y1="392.41" x2="173.59" y2="392.41"/><line x1="174.42" y1="385.79" x2="174.42" y2="381.13"/><line x1="171.22" y1="381.13" x2="177.62" y2="381.13"/><line x1="174.42" y1="385.79" x2="174.42" y2="390.45"/><line x1="171.22" y1="390.45" x2="177.62" y2="390.45"/><line x1="178.44" y1="388.12" x2="178.44" y2="383.30"/><line x1="175.24" y1="383.30" x2="181.64" y2="383.30"/><line x1="178.44" y1="388.12" x2="178.44" y2="392.95"/><line x1="175.24" y1="392.95" x2="181.64" y2="392.95"/><line x1="182.47" y1="381.90" x2="182.47" y2="376.30"/><line x1="179.27" y1="376.30" x2="185.67" y2="376.30"/><line x1="182.47" y1="381.90" x2="182.47" y2="387.51"/><line x1="179.27" y1="387.51" x2="185.67" y2="387.51"/><line x1="186.49" y1="383.46" x2="186.49" y2="380.27"/><line x1="183.29" y1="380.27" x2="189.69" y2="380.27"/><line x1="186.49" y1="383.46" x2="186.49" y2="386.65"/><line x1="183.29" y1="386.65" x2="189.69" y2="386.65"/><line x1="190.52" y1="385.01" x2="190.52" y2="380.17"/><line x1="187.32" y1="380.17" x2="193.72" y2="380.17"/><line x1="190.52" y1="385.01" x2="190.52" y2="389.86"/><line x1="187.32" y1="389.86" x2="193.72" y2="389.86"/><line x1="194.55" y1="382.68" x2="194.55" y2="377.17"/><line x1="191.35" y1="377.17" x2="197.75" y2="377.17"/><line x1="194.55" y1="382.68" x2="194.55" y2="388.20"/><line x1="191.35" y1="388.20" x2="197.75" y2="388.20"/><line x1="198.57" y1="376.46" x2="198.57" y2="370.90"/><line x1="195.37" y1="370.90" x2="201.77" y2="370.90"/><line x1="198.57" y1="376.46" x2="198.57" y2="382.02"/><line x1="195.37" y1="382.02" x2="201.77" y2="382.02"/><line x1="202.60" y1="379.57" x2="202.60" y2="375.08"/><line x1="199.40" y1="375.08" x2="205.80" y2="375.08"/><line x1="202.60" y1="379.57" x2="202.60" y2="384.06"/><line x1="199.40" y1="384.06" x2="205.80" y2="384.06"/><line x1="206.62" y1="378.79" x2="206.62" y2="374.25"/><line x1="203.42" y1="374.25" x2="209.82" y2="374.25"/><line x1="206.62" y1="378.79" x2="206.62" y2="383.34"/><line x1="203.42" y1="383.34" x2="209.82" y2="383.34"/><line x1="210.65" y1="379.57" x2="210.65" y2="375.99"/><line x1="207.45" y1="375.99" x2="213.85" y2="375.99"/><line x1="210.65" y1="379.57" x2="210.65" y2="383.16"/><line x1="207.45" y1="383.16" x2="213.85" y2="383.16"/><line x1="214.68" y1="383.46" x2="214.68" y2="379.95"/><line x1="211.48" y1="379.95" x2="217.88" y2="379.95"/><line x1="214.68" y1="383.46" x2="214.68" y2="386.97"/><line x1="211.48" y1="386.97" x2="217.88" y2="386.97"/><line x1="218.70" y1="381.90" x2="218.70" y2="377.58"/><line x1="215.50" y1="377.58" x2="221.90" y2="377.58"/><line x1="218.70" y1="381.90" x2="218.70" y2="386.23"/><line x1="215.50" y1="386.23" x2="221.90" y2="386.23"/><line x1="222.73" y1="384.24" x2="222.73" y2="379.70"/><line x1="219.53" y1="379.70" x2="225.93" y2="379.70"/><line x1="222.73" y1="384.24" x2="222.73" y2="388.77"/><line x1="219.53" y1="388.77" x2="225.93" y2="388.77"/><line x1="226.75" y1="381.90" x2="226.75" y2="377.36"/><line x1="223.55" y1="377.36" x2="229.95" y2="377.36"/><line x1="226.75" y1="381.90" x2="226.75" y2="386.45"/><line x1="223.55" y1="386.45" x2="229.95" y2="386.45"/><line x1="230.78" y1="382.68" x2="230.78" y2="378.43"/><line x1="227.58" y1="378.43" x2="233.98" y2="378.43"/><line x1="230.78" y1="382.68" x2="230.78" y2="386.94"/><line x1="227.58" y1="386.94" x2="233.98" y2="386.94"/><line x1="234.81" y1="250.20" x2="234.81" y2="196.55"/><line x1="231.61" y1="196.55" x2="238.01" y2="196.55"/><line x1="234.81" y1="250.20" x2="234.81" y2="303.84"/><line x1="231.61" y1="303.84" x2="238.01" y2="303.84"/><line x1="238.83" y1="246.08" x2="238.83" y2="193.21"/><line x1="235.63" y1="193.21" x2="242.03" y2="193.21"/><line x1="238.83" y1="246.08" x2="238.83" y2="298.95"/><line x1="235.63" y1="298.95" x2="242.03" y2="298.95"/><line x1="242.86" y1="270.41" x2="242.86" y2="225.32"/><line x1="239.66" y1="225.32" x2="246.06" y2="225.32"/><line x1="242.86" y1="270.41" x2="242.86" y2="315.51"/><line x1="239.66" y1="315.51" x2="246.06" y2="315.51"/><line x1="246.88" y1="271.19" x2="246.88" y2="226.09"/><line x1="243.68" y1="226.09" x2="250.08" y2="226.09"/><line x1="246.88" y1="271.19" x2="246.88" y2="316.28"/><line x1="243.68" y1="316.28" x2="250.08" y2="316.28"/><line x1="250.91" y1="255.95" x2="250.91" y2="203.08"/><line x1="247.71" y1="203.08" x2="254.11" y2="203.08"/><line x1="250.91" y1="255.95" x2="250.91" y2="308.82"/><line x1="247.71" y1="308.82" x2="254.11" y2="308.82"/><line x1="254.94" y1="253.62" x2="254.94" y2="195.30"/><line x1="251.74" y1="195.30" x2="258.14" y2="195.30"/><line x1="254.94" y1="253.62" x2="254.94" y2="311.93"/><line x1="251.74" y1="311.93" x2="258.14" y2="311.93"/><line x1="258.96" y1="256.73" x2="258.96" y2="199.19"/><line x1="255.76" y1="199.19" x2="262.16" y2="199.19"/><line x1="258.96" y1="256.73" x2="258.96" y2="314.26"/><line x1="255.76" y1="314.26" x2="262.16" y2="314.26"/><line x1="262.99" y1="251.28" x2="262.99" y2="190.64"/><line x1="259.79" y1="190.64" x2="266.19" y2="190.64"/><line x1="262.99" y1="251.28" x2="262.99" y2="311.93"/><line x1="259.79" y1="311.93" x2="266.19" y2="311.93"/><line x1="267.01" y1="260.62" x2="267.01" y2="206.97"/><line x1="263.81" y1="206.97" x2="270.21" y2="206.97"/><line x1="267.01" y1="260.62" x2="267.01" y2="314.26"/><line x1="263.81" y1="314.26" x2="270.21" y2="314.26"/><line x1="271.04" y1="259.06" x2="271.04" y2="203.08"/><line x1="267.84" y1="203.08" x2="274.24" y2="203.08"/><line x1="271.04" y1="259.06" x2="271.04" y2="315.04"/><line x1="267.84" y1="315.04" x2="274.24" y2="315.04"/><line x1="275.07" y1="263.26" x2="275.07" y2="207.67"/><line x1="271.87" y1="207.67" x2="278.27" y2="207.67"/><line x1="275.07" y1="263.26" x2="275.07" y2="318.85"/><line x1="271.87" y1="318.85" x2="278.27" y2="318.85"/><line x1="279.09" y1="262.17" x2="279.09" y2="205.41"/><line x1="275.89" y1="205.41" x2="282.29" y2="205.41"/><line x1="279.09" y1="262.17" x2="279.09" y2="318.93"/><line x1="275.89" y1="318.93" x2="282.29" y2="318.93"/><line x1="283.12" y1="254.39" x2="283.12" y2="189.08"/><line x1="279.92" y1="189.08" x2="286.32" y2="189.08"/><line x1="283.12" y1="254.39" x2="283.12" y2="319.70"/><line x1="279.92" y1="319.70" x2="286.32" y2="319.70"/><line x1="287.14" y1="251.28" x2="287.14" y2="187.53"/><line x1="283.94" y1="187.53" x2="290.34" y2="187.53"/><line x1="287.14" y1="251.28" x2="287.14" y2="315.04"/><line x1="283.94" y1="315.04" x2="290.34" y2="315.04"/><line x1="291.17" y1="256.73" x2="291.17" y2="198.41"/><line x1="287.97" y1="198.41" x2="294.37" y2="198.41"/><line x1="291.17" y1="256.73" x2="291.17" y2="315.04"/><line x1="287.97" y1="315.04" x2="294.37" y2="315.04"/><line x1="295.20" y1="262.95" x2="295.20" y2="204.63"/><line x1="292.00" y1="204.63" x2="298.40" y2="204.63"/><line x1="295.20" y1="262.95" x2="295.20" y2="321.26"/><line x1="292.00" y1="321.26" x2="298.40" y2="321.26"/><line x1="299.22" y1="266.06" x2="299.22" y2="207.74"/><line x1="296.02" y1="207.74" x2="302.42" y2="207.74"/><line x1="299.22" y1="266.06" x2="299.22" y2="324.37"/><line x1="296.02" y1="324.37" x2="302.42" y2="324.37"/><line x1="303.25" y1="253.62" x2="303.25" y2="195.30"/><line x1="300.05" y1="195.30" x2="306.45" y2="195.30"/><line x1="303.25" y1="253.62" x2="303.25" y2="311.93"/><line x1="300.05" y1="311.93" x2="306.45" y2="311.93"/><line x1="307.27" y1="262.95" x2="307.27" y2="204.63"/><line x1="304.07" y1="204.63" x2="310.47" y2="204.63"/><line x1="307.27" y1="262.95" x2="307.27" y2="321.26"/><line x1="304.07" y1="321.26" x2="310.47" y2="321.26"/><line x1="311.30" y1="264.19" x2="311.30" y2="205.88"/><line x1="308.10" y1="205.88" x2="314.50" y2="205.88"/><line x1="311.30" y1="264.19" x2="311.30" y2="322.50"/><line x1="308.10" y1="322.50" x2="314.50" y2="322.50"/><line x1="315.33" y1="263.73" x2="315.33" y2="205.41"/><line x1="312.13" y1="205.41" x2="318.53" y2="205.41"/><line x1="315.33" y1="263.73" x2="315.33" y2="322.04"/><line x1="312.13" y1="322.04" x2="318.53" y2="322.04"/><line x1="319.35" y1="259.45" x2="319.35" y2="201.14"/><line x1="316.15" y1="201.14" x2="322.55" y2="201.14"/><line x1="319.35" y1="259.45" x2="319.35" y2="317.76"/><line x1="316.15" y1="317.76" x2="322.55" y2="317.76"/><line x1="323.38" y1="275.78" x2="323.38" y2="217.46"/><line x1="320.18" y1="217.46" x2="326.58" y2="217.46"/><line x1="323.38" y1="275.78" x2="323.38" y2="334.09"/><line x1="320.18" y1="334.09" x2="326.58" y2="334.09"/><line x1="327.40" y1="297.47" x2="327.40" y2="249.26"/><line x1="324.20" y1="249.26" x2="330.60" y2="249.26"/><line x1="327.40" y1="297.47" x2="327.40" y2="345.67"/><line x1="324.20" y1="345.67" x2="330.60" y2="345.67"/><line x1="331.43" y1="287.83" x2="331.43" y2="239.62"/><line x1="328.23" y1="239.62" x2="334.63" y2="239.62"/><line x1="331.43" y1="287.83" x2="331.43" y2="336.03"/><line x1="328.23" y1="336.03" x2="334.63" y2="336.03"/><line x1="335.46" y1="280.52" x2="335.46" y2="232.31"/><line x1="332.26" y1="232.31" x2="338.66" y2="232.31"/><line x1="335.46" y1="280.52" x2="335.46" y2="328.72"/><line x1="332.26" y1="328.72" x2="338.66" y2="328.72"/><line x1="339.48" y1="296.07" x2="339.48" y2="247.86"/><line x1="336.28" y1="247.86" x2="342.68" y2="247.86"/><line x1="339.48" y1="296.07" x2="339.48" y2="344.27"/><line x1="336.28" y1="344.27" x2="342.68" y2="344.27"/><line x1="343.51" y1="303.53" x2="343.51" y2="255.33"/><line x1="340.31" y1="255.33" x2="346.71" y2="255.33"/><line x1="343.51" y1="303.53" x2="343.51" y2="351.74"/><line x1="340.31" y1="351.74" x2="346.71" y2="351.74"/><line x1="347.53" y1="295.60" x2="347.53" y2="247.40"/><line x1="344.33" y1="247.40" x2="350.73" y2="247.40"/><line x1="347.53" y1="295.60" x2="347.53" y2="343.81"/><line x1="344.33" y1="343.81" x2="350.73" y2="343.81"/><line x1="351.56" y1="296.77" x2="351.56" y2="248.56"/><line x1="348.36" y1="248.56" x2="354.76" y2="248.56"/><line x1="351.56" y1="296.77" x2="351.56" y2="344.97"/><line x1="348.36" y1="344.97" x2="354.76" y2="344.97"/><line x1="355.59" y1="295.60" x2="355.59" y2="247.40"/><line x1="352.39" y1="247.40" x2="358.79" y2="247.40"/><line x1="355.59" y1="295.60" x2="355.59" y2="343.81"/><line x1="352.39" y1="343.81" x2="358.79" y2="343.81"/><line x1="359.61" y1="281.22" x2="359.61" y2="237.68"/><line x1="356.41" y1="237.68" x2="362.81" y2="237.68"/><line x1="359.61" y1="281.22" x2="359.61" y2="324.76"/><line x1="356.41" y1="324.76" x2="362.81" y2="324.76"/><line x1="363.64" y1="289.38" x2="363.64" y2="245.84"/><line x1="360.44" y1="245.84" x2="366.84" y2="245.84"/><line x1="363.64" y1="289.38" x2="363.64" y2="332.92"/><line x1="360.44" y1="332.92" x2="366.84" y2="332.92"/><line x1="367.66" y1="289.38" x2="367.66" y2="245.84"/><line x1="364.46" y1="245.84" x2="370.86" y2="245.84"/><line x1="367.66" y1="289.38" x2="367.66" y2="332.92"/><line x1="364.46" y1="332.92" x2="370.86" y2="332.92"/><line x1="371.69" y1="290.16" x2="371.69" y2="246.62"/><line x1="368.49" y1="246.62" x2="374.89" y2="246.62"/><line x1="371.69" y1="290.16" x2="371.69" y2="333.70"/><line x1="368.49" y1="333.70" x2="374.89" y2="333.70"/><line x1="375.72" y1="285.96" x2="375.72" y2="242.42"/><line x1="372.52" y1="242.42" x2="378.92" y2="242.42"/><line x1="375.72" y1="285.96" x2="375.72" y2="329.50"/><line x1="372.52" y1="329.50" x2="378.92" y2="329.50"/><line x1="379.74" y1="293.27" x2="379.74" y2="249.73"/><line x1="376.54" y1="249.73" x2="382.94" y2="249.73"/><line x1="379.74" y1="293.27" x2="379.74" y2="336.81"/><line x1="376.54" y1="336.81" x2="382.94" y2="336.81"/><line x1="383.77" y1="284.72" x2="383.77" y2="241.18"/><line x1="380.57" y1="241.18" x2="386.97" y2="241.18"/><line x1="383.77" y1="284.72" x2="383.77" y2="328.26"/><line x1="380.57" y1="328.26" x2="386.97" y2="328.26"/><line x1="387.79" y1="283.16" x2="387.79" y2="239.62"/><line x1="384.59" y1="239.62" x2="390.99" y2="239.62"/><line x1="387.79" y1="283.16" x2="387.79" y2="326.70"/><line x1="384.59" y1="326.70" x2="390.99" y2="326.70"/><line x1="391.82" y1="290.39" x2="391.82" y2="246.85"/><line x1="388.62" y1="246.85" x2="395.02" y2="246.85"/><line x1="391.82" y1="290.39" x2="391.82" y2="333.93"/><line x1="388.62" y1="333.93" x2="395.02" y2="333.93"/><line x1="395.85" y1="290.39" x2="395.85" y2="246.85"/><line x1="392.65" y1="246.85" x2="399.05" y2="246.85"/><line x1="395.85" y1="290.39" x2="395.85" y2="333.93"/><line x1="392.65" y1="333.93" x2="399.05" y2="333.93"/><line x1="399.87" y1="287.05" x2="399.87" y2="243.51"/><line x1="396.67" y1="243.51" x2="403.07" y2="243.51"/><line x1="399.87" y1="287.05" x2="399.87" y2="330.59"/><line x1="396.67" y1="330.59" x2="403.07" y2="330.59"/><line x1="403.90" y1="287.67" x2="403.90" y2="245.69"/><line x1="400.70" y1="245.69" x2="407.10" y2="245.69"/><line x1="403.90" y1="287.67" x2="403.90" y2="329.66"/><line x1="400.70" y1="329.66" x2="407.10" y2="329.66"/><line x1="407.92" y1="293.04" x2="407.92" y2="251.05"/><line x1="404.72" y1="251.05" x2="411.12" y2="251.05"/><line x1="407.92" y1="293.04" x2="407.92" y2="335.02"/><line x1="404.72" y1="335.02" x2="411.12" y2="335.02"/><line x1="411.95" y1="294.36" x2="411.95" y2="252.37"/><line x1="408.75" y1="252.37" x2="415.15" y2="252.37"/><line x1="411.95" y1="294.36" x2="411.95" y2="336.34"/><line x1="408.75" y1="336.34" x2="415.15" y2="336.34"/><line x1="415.98" y1="284.95" x2="415.98" y2="242.97"/><line x1="412.78" y1="242.97" x2="419.18" y2="242.97"/><line x1="415.98" y1="284.95" x2="415.98" y2="326.94"/><line x1="412.78" y1="326.94" x2="419.18" y2="326.94"/><line x1="420.00" y1="296.38" x2="420.00" y2="254.39"/><line x1="416.80" y1="254.39" x2="423.20" y2="254.39"/><line x1="420.00" y1="296.38" x2="420.00" y2="338.37"/><line x1="416.80" y1="338.37" x2="423.20" y2="338.37"/><line x1="424.03" y1="303.92" x2="424.03" y2="261.94"/><line x1="420.83" y1="261.94" x2="427.23" y2="261.94"/><line x1="424.03" y1="303.92" x2="424.03" y2="345.91"/><line x1="420.83" y1="345.91" x2="427.23" y2="345.91"/><line x1="428.05" y1="287.67" x2="428.05" y2="245.69"/><line x1="424.85" y1="245.69" x2="431.25" y2="245.69"/><line x1="428.05" y1="287.67" x2="428.05" y2="329.66"/><line x1="424.85" y1="329.66" x2="431.25" y2="329.66"/><line x1="432.08" y1="291.71" x2="432.08" y2="249.73"/><line x1="428.88" y1="249.73" x2="435.28" y2="249.73"/><line x1="432.08" y1="291.71" x2="432.08" y2="333.70"/><line x1="428.88" y1="333.70" x2="435.28" y2="333.70"/><line x1="436.11" y1="297.86" x2="436.11" y2="255.87"/><line x1="432.91" y1="255.87" x2="439.31" y2="255.87"/><line x1="436.11" y1="297.86" x2="436.11" y2="339.84"/><line x1="432.91" y1="339.84" x2="439.31" y2="339.84"/><line x1="440.13" y1="295.06" x2="440.13" y2="253.07"/><line x1="436.93" y1="253.07" x2="443.33" y2="253.07"/><line x1="440.13" y1="295.06" x2="440.13" y2="337.04"/><line x1="436.93" y1="337.04" x2="443.33" y2="337.04"/><line x1="444.16" y1="287.05" x2="444.16" y2="245.06"/><line x1="440.96" y1="245.06" x2="447.36" y2="245.06"/><line x1="444.16" y1="287.05" x2="444.16" y2="329.03"/><line x1="440.96" y1="329.03" x2="447.36" y2="329.03"/><line x1="448.18" y1="298.48" x2="448.18" y2="256.49"/><line x1="444.98" y1="256.49" x2="451.38" y2="256.49"/><line x1="448.18" y1="298.48" x2="448.18" y2="340.46"/><line x1="444.98" y1="340.46" x2="451.38" y2="340.46"/><line x1="452.21" y1="291.71" x2="452.21" y2="249.73"/><line x1="449.01" y1="249.73" x2="455.41" y2="249.73"/><line x1="452.21" y1="291.71" x2="452.21" y2="333.70"/><line x1="449.01" y1="333.70" x2="455.41" y2="333.70"/><line x1="456.24" y1="290.39" x2="456.24" y2="248.41"/><line x1="453.04" y1="248.41" x2="459.44" y2="248.41"/><line x1="456.24" y1="290.39" x2="456.24" y2="332.38"/><line x1="453.04" y1="332.38" x2="459.44" y2="332.38"/><line x1="460.26" y1="287.67" x2="460.26" y2="245.69"/><line x1="457.06" y1="245.69" x2="463.46" y2="245.69"/><line x1="460.26" y1="287.67" x2="460.26" y2="329.66"/><line x1="457.06" y1="329.66" x2="463.46" y2="329.66"/><line x1="464.29" y1="295.76" x2="464.29" y2="253.77"/><line x1="461.09" y1="253.77" x2="467.49" y2="253.77"/><line x1="464.29" y1="295.76" x2="464.29" y2="337.74"/><line x1="461.09" y1="337.74" x2="467.49" y2="337.74"/><line x1="468.31" y1="305.24" x2="468.31" y2="263.26"/><line x1="465.11" y1="263.26" x2="471.51" y2="263.26"/><line x1="468.31" y1="305.24" x2="468.31" y2="347.23"/><line x1="465.11" y1="347.23" x2="471.51" y2="347.23"/><line x1="472.34" y1="306.64" x2="472.34" y2="275.54"/><line x1="469.14" y1="275.54" x2="475.54" y2="275.54"/><line x1="472.34" y1="306.64" x2="472.34" y2="337.74"/><line x1="469.14" y1="337.74" x2="475.54" y2="337.74"/><line x1="476.37" y1="295.14" x2="476.37" y2="264.04"/><line x1="473.17" y1="264.04" x2="479.57" y2="264.04"/><line x1="476.37" y1="295.14" x2="476.37" y2="326.24"/><line x1="473.17" y1="326.24" x2="479.57" y2="326.24"/><line x1="480.39" y1="294.44" x2="480.39" y2="263.34"/><line x1="477.19" y1="263.34" x2="483.59" y2="263.34"/><line x1="480.39" y1="294.44" x2="480.39" y2="325.54"/><line x1="477.19" y1="325.54" x2="483.59" y2="325.54"/><line x1="484.42" y1="295.84" x2="484.42" y2="264.74"/><line x1="481.22" y1="264.74" x2="487.62" y2="264.74"/><line x1="484.42" y1="295.84" x2="484.42" y2="326.94"/><line x1="481.22" y1="326.94" x2="487.62" y2="326.94"/><line x1="488.44" y1="293.74" x2="488.44" y2="262.64"/><line x1="485.24" y1="262.64" x2="491.64" y2="262.64"/><line x1="488.44" y1="293.74" x2="488.44" y2="324.84"/><line x1="485.24" y1="324.84" x2="491.64" y2="324.84"/><line x1="492.47" y1="302.37" x2="492.47" y2="271.27"/><line x1="489.27" y1="271.27" x2="495.67" y2="271.27"/><line x1="492.47" y1="302.37" x2="492.47" y2="333.47"/><line x1="489.27" y1="333.47" x2="495.67" y2="333.47"/><line x1="496.50" y1="303.77" x2="496.50" y2="272.67"/><line x1="493.30" y1="272.67" x2="499.70" y2="272.67"/><line x1="496.50" y1="303.77" x2="496.50" y2="334.87"/><line x1="493.30" y1="334.87" x2="499.70" y2="334.87"/><line x1="500.52" y1="303.07" x2="500.52" y2="271.97"/><line x1="497.32" y1="271.97" x2="503.72" y2="271.97"/><line x1="500.52" y1="303.07" x2="500.52" y2="334.17"/><line x1="497.32" y1="334.17" x2="503.72" y2="334.17"/><line x1="504.55" y1="299.49" x2="504.55" y2="268.39"/><line x1="501.35" y1="268.39" x2="507.75" y2="268.39"/><line x1="504.55" y1="299.49" x2="504.55" y2="330.59"/><line x1="501.35" y1="330.59" x2="507.75" y2="330.59"/><line x1="508.57" y1="307.34" x2="508.57" y2="276.24"/><line x1="505.37" y1="276.24" x2="511.77" y2="276.24"/><line x1="508.57" y1="307.34" x2="508.57" y2="338.44"/><line x1="505.37" y1="338.44" x2="511.77" y2="338.44"/><line x1="512.60" y1="306.64" x2="512.60" y2="275.54"/><line x1="509.40" y1="275.54" x2="515.80" y2="275.54"/><line x1="512.60" y1="306.64" x2="512.60" y2="337.74"/><line x1="509.40" y1="337.74" x2="515.80" y2="337.74"/><line x1="516.63" y1="304.47" x2="516.63" y2="273.37"/><line x1="513.43" y1="273.37" x2="519.83" y2="273.37"/><line x1="516.63" y1="304.47" x2="516.63" y2="335.57"/><line x1="513.43" y1="335.57" x2="519.83" y2="335.57"/><line x1="520.65" y1="302.37" x2="520.65" y2="271.27"/><line x1="517.45" y1="271.27" x2="523.85" y2="271.27"/><line x1="520.65" y1="302.37" x2="520.65" y2="333.47"/><line x1="517.45" y1="333.47" x2="523.85" y2="333.47"/><line x1="524.68" y1="302.37" x2="524.68" y2="271.27"/><line x1="521.48" y1="271.27" x2="527.88" y2="271.27"/><line x1="524.68" y1="302.37" x2="524.68" y2="333.47"/><line x1="521.48" y1="333.47" x2="527.88" y2="333.47"/><line x1="528.70" y1="303.77" x2="528.70" y2="272.67"/><line x1="525.50" y1="272.67" x2="531.90" y2="272.67"/><line x1="528.70" y1="303.77" x2="528.70" y2="334.87"/><line x1="525.50" y1="334.87" x2="531.90" y2="334.87"/><line x1="532.73" y1="298.09" x2="532.73" y2="266.99"/><line x1="529.53" y1="266.99" x2="535.93" y2="266.99"/><line x1="532.73" y1="298.09" x2="532.73" y2="329.19"/><line x1="529.53" y1="329.19" x2="535.93" y2="329.19"/><line x1="536.76" y1="297.39" x2="536.76" y2="266.29"/><line x1="533.56" y1="266.29" x2="539.96" y2="266.29"/><line x1="536.76" y1="297.39" x2="536.76" y2="328.49"/><line x1="533.56" y1="328.49" x2="539.96" y2="328.49"/><line x1="540.78" y1="297.39" x2="540.78" y2="266.29"/><line x1="537.58" y1="266.29" x2="543.98" y2="266.29"/><line x1="540.78" y1="297.39" x2="540.78" y2="328.49"/><line x1="537.58" y1="328.49" x2="543.98" y2="328.49"/><line x1="544.81" y1="299.49" x2="544.81" y2="268.39"/><line x1="541.61" y1="268.39" x2="548.01" y2="268.39"/><line x1="544.81" y1="299.49" x2="544.81" y2="330.59"/><line x1="541.61" y1="330.59" x2="548.01" y2="330.59"/><line x1="548.83" y1="290.94" x2="548.83" y2="259.84"/><line x1="545.63" y1="259.84" x2="552.03" y2="259.84"/><line x1="548.83" y1="290.94" x2="548.83" y2="322.04"/><line x1="545.63" y1="322.04" x2="552.03" y2="322.04"/><line x1="552.86" y1="294.82" x2="552.86" y2="263.73"/><line x1="549.66" y1="263.73" x2="556.06" y2="263.73"/><line x1="552.86" y1="294.82" x2="552.86" y2="325.92"/><line x1="549.66" y1="325.92" x2="556.06" y2="325.92"/></g>
<g fill="#0000ff"><circle cx="110.00" cy="401.34" r="4.2"/><circle cx="114.03" cy="399.79" r="4.2"/><circle cx="118.05" cy="400.56" r="4.2"/><circle cx="122.08" cy="398.23" r="4.2"/><circle cx="126.10" cy="399.01" r="4.2"/><circle cx="130.13" cy="396.68" r="4.2"/><circle cx="134.16" cy="392.79" r="4.2"/><circle cx="138.18" cy="391.23" r="4.2"/><circle cx="142.21" cy="390.46" r="4.2"/><circle cx="146.23" cy="392.79" r="4.2"/><circle cx="150.26" cy="391.23" r="4.2"/><circle cx="154.29" cy="384.24" r="4.2"/><circle cx="158.31" cy="385.01" r="4.2"/><circle cx="162.34" cy="388.90" r="4.2"/><circle cx="166.36" cy="389.68" r="4.2"/><circle cx="170.39" cy="386.57" r="4.2"/><circle cx="174.42" cy="385.79" r="4.2"/><circle cx="178.44" cy="388.12" r="4.2"/><circle cx="182.47" cy="381.90" r="4.2"/><circle cx="186.49" cy="383.46" r="4.2"/><circle cx="190.52" cy="385.01" r="4.2"/><circle cx="194.55" cy="382.68" r="4.2"/><circle cx="198.57" cy="376.46" r="4.2"/><circle cx="202.60" cy="379.57" r="4.2"/><circle cx="206.62" cy="378.79" r="4.2"/><circle cx="210.65" cy="379.57" r="4.2"/><circle cx="214.68" cy="383.46" r="4.2"/><circle cx="218.70" cy="381.90" r="4.2"/><circle cx="222.73" cy="384.24" r="4.2"/><circle cx="226.75" cy="381.90" r="4.2"/><circle cx="230.78" cy="382.68" r="4.2"/><circle cx="234.81" cy="250.20" r="4.2"/><circle cx="238.83" cy="246.08" r="4.2"/><circle cx="242.86" cy="270.41" r="4.2"/><circle cx="246.88" cy="271.19" r="4.2"/><circle cx="250.91" cy="255.95" r="4.2"/><circle cx="254.94" cy="253.62" r="4.2"/><circle cx="258.96" cy="256.73" r="4.2"/><circle cx="262.99" cy="251.28" r="4.2"/><circle cx="267.01" cy="260.62" r="4.2"/><circle cx="271.04" cy="259.06" r="4.2"/><circle cx="275.07" cy="263.26" r="4.2"/><circle cx="279.09" cy="262.17" r="4.2"/><circle cx="283.12" cy="254.39" r="4.2"/><circle cx="287.14" cy="251.28" r="4.2"/><circle cx="291.17" cy="256.73" r="4.2"/><circle cx="295.20" cy="262.95" r="4.2"/><circle cx="299.22" cy="266.06" r="4.2"/><circle cx="303.25" cy="253.62" r="4.2"/><circle cx="307.27" cy="262.95" r="4.2"/><circle cx="311.30" cy="264.19" r="4.2"/><circle cx="315.33" cy="263.73" r="4.2"/><circle cx="319.35" cy="259.45" r="4.2"/><circle cx="323.38" cy="275.78" r="4.2"/><circle cx="327.40" cy="297.47" r="4.2"/><circle cx="331.43" cy="287.83" r="4.2"/><circle cx="335.46" cy="280.52" r="4.2"/><circle cx="339.48" cy="296.07" r="4.2"/><circle cx="343.51" cy="303.53" r="4.2"/><circle cx="347.53" cy="295.60" r="4.2"/><circle cx="351.56" cy="296.77" r="4.2"/><circle cx="355.59" cy="295.60" r="4.2"/><circle cx="359.61" cy="281.22" r="4.2"/><circle cx="363.64" cy="289.38" r="4.2"/><circle cx="367.66" cy="289.38" r="4.2"/><circle cx="371.69" cy="290.16" r="4.2"/><circle cx="375.72" cy="285.96" r="4.2"/><circle cx="379.74" cy="293.27" r="4.2"/><circle cx="383.77" cy="284.72" r="4.2"/><circle cx="387.79" cy="283.16" r="4.2"/><circle cx="391.82" cy="290.39" r="4.2"/><circle cx="395.85" cy="290.39" r="4.2"/><circle cx="399.87" cy="287.05" r="4.2"/><circle cx="403.90" cy="287.67" r="4.2"/><circle cx="407.92" cy="293.04" r="4.2"/><circle cx="411.95" cy="294.36" r="4.2"/><circle cx="415.98" cy="284.95" r="4.2"/><circle cx="420.00" cy="296.38" r="4.2"/><circle cx="424.03" cy="303.92" r="4.2"/><circle cx="428.05" cy="287.67" r="4.2"/><circle cx="432.08" cy="291.71" r="4.2"/><circle cx="436.11" cy="297.86" r="4.2"/><circle cx="440.13" cy="295.06" r="4.2"/><circle cx="444.16" cy="287.05" r="4.2"/><circle cx="448.18" cy="298.48" r="4.2"/><circle cx="452.21" cy="291.71" r="4.2"/><circle cx="456.24" cy="290.39" r="4.2"/><circle cx="460.26" cy="287.67" r="4.2"/><circle cx="464.29" cy="295.76" r="4.2"/><circle cx="468.31" cy="305.24" r="4.2"/><circle cx="472.34" cy="306.64" r="4.2"/><circle cx="476.37" cy="295.14" r="4.2"/><circle cx="480.39" cy="294.44" r="4.2"/><circle cx="484.42" cy="295.84" r="4.2"/><circle cx="488.44" cy="293.74" r="4.2"/><circle cx="492.47" cy="302.37" r="4.2"/><circle cx="496.50" cy="303.77" r="4.2"/><circle cx="500.52" cy="303.07" r="4.2"/><circle cx="504.55" cy="299.49" r="4.2"/><circle cx="508.57" cy="307.34" r="4.2"/><circle cx="512.60" cy="306.64" r="4.2"/><circle cx="516.63" cy="304.47" r="4.2"/><circle cx="520.65" cy="302.37" r="4.2"/><circle cx="524.68" cy="302.37" r="4.2"/><circle cx="528.70" cy="303.77" r="4.2"/><circle cx="532.73" cy="298.09" r="4.2"/><circle cx="536.76" cy="297.39" r="4.2"/><circle cx="540.78" cy="297.39" r="4.2"/><circle cx="544.81" cy="299.49" r="4.2"/><circle cx="548.83" cy="290.94" r="4.2"/><circle cx="552.86" cy="294.82" r="4.2"/></g>
<g stroke="#e46266" stroke-width="1"><line x1="110.00" y1="405.23" x2="110.00" y2="397.74"/><line x1="106.80" y1="397.74" x2="113.20" y2="397.74"/><line x1="110.00" y1="405.23" x2="110.00" y2="412.72"/><line x1="106.80" y1="412.72" x2="113.20" y2="412.72"/><line x1="114.03" y1="395.90" x2="114.03" y2="391.34"/><line x1="110.83" y1="391.34" x2="117.23" y2="391.34"/><line x1="114.03" y1="395.90" x2="114.03" y2="400.46"/><line x1="110.83" y1="400.46" x2="117.23" y2="400.46"/><line x1="118.05" y1="394.34" x2="118.05" y2="390.38"/><line x1="114.85" y1="390.38" x2="121.25" y2="390.38"/><line x1="118.05" y1="394.34" x2="118.05" y2="398.31"/><line x1="114.85" y1="398.31" x2="121.25" y2="398.31"/><line x1="122.08" y1="396.68" x2="122.08" y2="389.95"/><line x1="118.88" y1="389.95" x2="125.28" y2="389.95"/><line x1="122.08" y1="396.68" x2="122.08" y2="403.41"/><line x1="118.88" y1="403.41" x2="125.28" y2="403.41"/><line x1="126.10" y1="395.12" x2="126.10" y2="388.76"/><line x1="122.90" y1="388.76" x2="129.30" y2="388.76"/><line x1="126.10" y1="395.12" x2="126.10" y2="401.49"/><line x1="122.90" y1="401.49" x2="129.30" y2="401.49"/><line x1="130.13" y1="386.18" x2="130.13" y2="378.44"/><line x1="126.93" y1="378.44" x2="133.33" y2="378.44"/><line x1="130.13" y1="386.18" x2="130.13" y2="393.92"/><line x1="126.93" y1="393.92" x2="133.33" y2="393.92"/><line x1="134.16" y1="395.90" x2="134.16" y2="389.41"/><line x1="130.96" y1="389.41" x2="137.36" y2="389.41"/><line x1="134.16" y1="395.90" x2="134.16" y2="402.39"/><line x1="130.96" y1="402.39" x2="137.36" y2="402.39"/><line x1="138.18" y1="396.68" x2="138.18" y2="388.95"/><line x1="134.98" y1="388.95" x2="141.38" y2="388.95"/><line x1="138.18" y1="396.68" x2="138.18" y2="404.40"/><line x1="134.98" y1="404.40" x2="141.38" y2="404.40"/><line x1="142.21" y1="395.12" x2="142.21" y2="389.42"/><line x1="139.01" y1="389.42" x2="145.41" y2="389.42"/><line x1="142.21" y1="395.12" x2="142.21" y2="400.83"/><line x1="139.01" y1="400.83" x2="145.41" y2="400.83"/><line x1="146.23" y1="397.45" x2="146.23" y2="392.29"/><line x1="143.03" y1="392.29" x2="149.43" y2="392.29"/><line x1="146.23" y1="397.45" x2="146.23" y2="402.62"/><line x1="143.03" y1="402.62" x2="149.43" y2="402.62"/><line x1="150.26" y1="395.90" x2="150.26" y2="388.30"/><line x1="147.06" y1="388.30" x2="153.46" y2="388.30"/><line x1="150.26" y1="395.90" x2="150.26" y2="403.50"/><line x1="147.06" y1="403.50" x2="153.46" y2="403.50"/><line x1="154.29" y1="396.68" x2="154.29" y2="392.76"/><line x1="151.09" y1="392.76" x2="157.49" y2="392.76"/><line x1="154.29" y1="396.68" x2="154.29" y2="400.59"/><line x1="151.09" y1="400.59" x2="157.49" y2="400.59"/><line x1="158.31" y1="395.12" x2="158.31" y2="390.72"/><line x1="155.11" y1="390.72" x2="161.51" y2="390.72"/><line x1="158.31" y1="395.12" x2="158.31" y2="399.53"/><line x1="155.11" y1="399.53" x2="161.51" y2="399.53"/><line x1="162.34" y1="397.45" x2="162.34" y2="393.02"/><line x1="159.14" y1="393.02" x2="165.54" y2="393.02"/><line x1="162.34" y1="397.45" x2="162.34" y2="401.89"/><line x1="159.14" y1="401.89" x2="165.54" y2="401.89"/><line x1="166.36" y1="395.90" x2="166.36" y2="390.14"/><line x1="163.16" y1="390.14" x2="169.56" y2="390.14"/><line x1="166.36" y1="395.90" x2="166.36" y2="401.66"/><line x1="163.16" y1="401.66" x2="169.56" y2="401.66"/><line x1="170.39" y1="396.68" x2="170.39" y2="388.91"/><line x1="167.19" y1="388.91" x2="173.59" y2="388.91"/><line x1="170.39" y1="396.68" x2="170.39" y2="404.45"/><line x1="167.19" y1="404.45" x2="173.59" y2="404.45"/><line x1="174.42" y1="398.23" x2="174.42" y2="393.86"/><line x1="171.22" y1="393.86" x2="177.62" y2="393.86"/><line x1="174.42" y1="398.23" x2="174.42" y2="402.61"/><line x1="171.22" y1="402.61" x2="177.62" y2="402.61"/><line x1="178.44" y1="399.79" x2="178.44" y2="393.82"/><line x1="175.24" y1="393.82" x2="181.64" y2="393.82"/><line x1="178.44" y1="399.79" x2="178.44" y2="405.75"/><line x1="175.24" y1="405.75" x2="181.64" y2="405.75"/><line x1="182.47" y1="399.01" x2="182.47" y2="394.10"/><line x1="179.27" y1="394.10" x2="185.67" y2="394.10"/><line x1="182.47" y1="399.01" x2="182.47" y2="403.92"/><line x1="179.27" y1="403.92" x2="185.67" y2="403.92"/><line x1="186.49" y1="400.56" x2="186.49" y2="394.14"/><line x1="183.29" y1="394.14" x2="189.69" y2="394.14"/><line x1="186.49" y1="400.56" x2="186.49" y2="406.99"/><line x1="183.29" y1="406.99" x2="189.69" y2="406.99"/><line x1="190.52" y1="404.92" x2="190.52" y2="399.94"/><line x1="187.32" y1="399.94" x2="193.72" y2="399.94"/><line x1="190.52" y1="404.92" x2="190.52" y2="409.90"/><line x1="187.32" y1="409.90" x2="193.72" y2="409.90"/><line x1="194.55" y1="399.79" x2="194.55" y2="394.11"/><line x1="191.35" y1="394.11" x2="197.75" y2="394.11"/><line x1="194.55" y1="399.79" x2="194.55" y2="405.47"/><line x1="191.35" y1="405.47" x2="197.75" y2="405.47"/><line x1="198.57" y1="401.34" x2="198.57" y2="393.61"/><line x1="195.37" y1="393.61" x2="201.77" y2="393.61"/><line x1="198.57" y1="401.34" x2="198.57" y2="409.08"/><line x1="195.37" y1="409.08" x2="201.77" y2="409.08"/><line x1="202.60" y1="399.01" x2="202.60" y2="394.32"/><line x1="199.40" y1="394.32" x2="205.80" y2="394.32"/><line x1="202.60" y1="399.01" x2="202.60" y2="403.70"/><line x1="199.40" y1="403.70" x2="205.80" y2="403.70"/><line x1="206.62" y1="400.56" x2="206.62" y2="394.01"/><line x1="203.42" y1="394.01" x2="209.82" y2="394.01"/><line x1="206.62" y1="400.56" x2="206.62" y2="407.12"/><line x1="203.42" y1="407.12" x2="209.82" y2="407.12"/><line x1="210.65" y1="399.79" x2="210.65" y2="392.60"/><line x1="207.45" y1="392.60" x2="213.85" y2="392.60"/><line x1="210.65" y1="399.79" x2="210.65" y2="406.97"/><line x1="207.45" y1="406.97" x2="213.85" y2="406.97"/><line x1="214.68" y1="402.12" x2="214.68" y2="397.30"/><line x1="211.48" y1="397.30" x2="217.88" y2="397.30"/><line x1="214.68" y1="402.12" x2="214.68" y2="406.94"/><line x1="211.48" y1="406.94" x2="217.88" y2="406.94"/><line x1="218.70" y1="400.56" x2="218.70" y2="394.77"/><line x1="215.50" y1="394.77" x2="221.90" y2="394.77"/><line x1="218.70" y1="400.56" x2="218.70" y2="406.36"/><line x1="215.50" y1="406.36" x2="221.90" y2="406.36"/><line x1="222.73" y1="402.12" x2="222.73" y2="395.95"/><line x1="219.53" y1="395.95" x2="225.93" y2="395.95"/><line x1="222.73" y1="402.12" x2="222.73" y2="408.29"/><line x1="219.53" y1="408.29" x2="225.93" y2="408.29"/><line x1="226.75" y1="374.91" x2="226.75" y2="360.91"/><line x1="223.55" y1="360.91" x2="229.95" y2="360.91"/><line x1="226.75" y1="374.91" x2="226.75" y2="388.90"/><line x1="223.55" y1="388.90" x2="229.95" y2="388.90"/><line x1="230.78" y1="337.59" x2="230.78" y2="319.70"/><line x1="227.58" y1="319.70" x2="233.98" y2="319.70"/><line x1="230.78" y1="337.59" x2="230.78" y2="355.47"/><line x1="227.58" y1="355.47" x2="233.98" y2="355.47"/><line x1="234.81" y1="345.75" x2="234.81" y2="323.98"/><line x1="231.61" y1="323.98" x2="238.01" y2="323.98"/><line x1="234.81" y1="345.75" x2="234.81" y2="367.52"/><line x1="231.61" y1="367.52" x2="238.01" y2="367.52"/><line x1="238.83" y1="331.37" x2="238.83" y2="308.04"/><line x1="235.63" y1="308.04" x2="242.03" y2="308.04"/><line x1="238.83" y1="331.37" x2="238.83" y2="354.69"/><line x1="235.63" y1="354.69" x2="242.03" y2="354.69"/><line x1="242.86" y1="330.59" x2="242.86" y2="307.26"/><line x1="239.66" y1="307.26" x2="246.06" y2="307.26"/><line x1="242.86" y1="330.59" x2="242.86" y2="353.91"/><line x1="239.66" y1="353.91" x2="246.06" y2="353.91"/><line x1="246.88" y1="330.59" x2="246.88" y2="307.26"/><line x1="243.68" y1="307.26" x2="250.08" y2="307.26"/><line x1="246.88" y1="330.59" x2="246.88" y2="353.91"/><line x1="243.68" y1="353.91" x2="250.08" y2="353.91"/><line x1="250.91" y1="336.03" x2="250.91" y2="312.71"/><line x1="247.71" y1="312.71" x2="254.11" y2="312.71"/><line x1="250.91" y1="336.03" x2="250.91" y2="359.36"/><line x1="247.71" y1="359.36" x2="254.11" y2="359.36"/><line x1="254.94" y1="340.93" x2="254.94" y2="317.61"/><line x1="251.74" y1="317.61" x2="258.14" y2="317.61"/><line x1="254.94" y1="340.93" x2="254.94" y2="364.26"/><line x1="251.74" y1="364.26" x2="258.14" y2="364.26"/><line x1="258.96" y1="341.47" x2="258.96" y2="318.15"/><line x1="255.76" y1="318.15" x2="262.16" y2="318.15"/><line x1="258.96" y1="341.47" x2="258.96" y2="364.80"/><line x1="255.76" y1="364.80" x2="262.16" y2="364.80"/><line x1="262.99" y1="348.47" x2="262.99" y2="325.15"/><line x1="259.79" y1="325.15" x2="266.19" y2="325.15"/><line x1="262.99" y1="348.47" x2="262.99" y2="371.80"/><line x1="259.79" y1="371.80" x2="266.19" y2="371.80"/><line x1="267.01" y1="347.69" x2="267.01" y2="329.03"/><line x1="263.81" y1="329.03" x2="270.21" y2="329.03"/><line x1="267.01" y1="347.69" x2="267.01" y2="366.35"/><line x1="263.81" y1="366.35" x2="270.21" y2="366.35"/><line x1="271.04" y1="352.67" x2="271.04" y2="334.01"/><line x1="267.84" y1="334.01" x2="274.24" y2="334.01"/><line x1="271.04" y1="352.67" x2="271.04" y2="371.33"/><line x1="267.84" y1="371.33" x2="274.24" y2="371.33"/><line x1="275.07" y1="344.97" x2="275.07" y2="326.31"/><line x1="271.87" y1="326.31" x2="278.27" y2="326.31"/><line x1="275.07" y1="344.97" x2="275.07" y2="363.63"/><line x1="271.87" y1="363.63" x2="278.27" y2="363.63"/><line x1="279.09" y1="352.67" x2="279.09" y2="334.01"/><line x1="275.89" y1="334.01" x2="282.29" y2="334.01"/><line x1="279.09" y1="352.67" x2="279.09" y2="371.33"/><line x1="275.89" y1="371.33" x2="282.29" y2="371.33"/><line x1="283.12" y1="351.97" x2="283.12" y2="333.31"/><line x1="279.92" y1="333.31" x2="286.32" y2="333.31"/><line x1="283.12" y1="351.97" x2="283.12" y2="370.63"/><line x1="279.92" y1="370.63" x2="286.32" y2="370.63"/><line x1="287.14" y1="351.19" x2="287.14" y2="332.53"/><line x1="283.94" y1="332.53" x2="290.34" y2="332.53"/><line x1="287.14" y1="351.19" x2="287.14" y2="369.85"/><line x1="283.94" y1="369.85" x2="290.34" y2="369.85"/><line x1="291.17" y1="360.13" x2="291.17" y2="344.58"/><line x1="287.97" y1="344.58" x2="294.37" y2="344.58"/><line x1="291.17" y1="360.13" x2="291.17" y2="375.69"/><line x1="287.97" y1="375.69" x2="294.37" y2="375.69"/><line x1="295.20" y1="362.47" x2="295.20" y2="346.92"/><line x1="292.00" y1="346.92" x2="298.40" y2="346.92"/><line x1="295.20" y1="362.47" x2="295.20" y2="378.02"/><line x1="292.00" y1="378.02" x2="298.40" y2="378.02"/><line x1="299.22" y1="362.47" x2="299.22" y2="346.92"/><line x1="296.02" y1="346.92" x2="302.42" y2="346.92"/><line x1="299.22" y1="362.47" x2="299.22" y2="378.02"/><line x1="296.02" y1="378.02" x2="302.42" y2="378.02"/><line x1="303.25" y1="362.47" x2="303.25" y2="346.92"/><line x1="300.05" y1="346.92" x2="306.45" y2="346.92"/><line x1="303.25" y1="362.47" x2="303.25" y2="378.02"/><line x1="300.05" y1="378.02" x2="306.45" y2="378.02"/><line x1="307.27" y1="362.00" x2="307.27" y2="346.45"/><line x1="304.07" y1="346.45" x2="310.47" y2="346.45"/><line x1="307.27" y1="362.00" x2="307.27" y2="377.55"/><line x1="304.07" y1="377.55" x2="310.47" y2="377.55"/><line x1="311.30" y1="367.44" x2="311.30" y2="351.89"/><line x1="308.10" y1="351.89" x2="314.50" y2="351.89"/><line x1="311.30" y1="367.44" x2="311.30" y2="382.99"/><line x1="308.10" y1="382.99" x2="314.50" y2="382.99"/><line x1="315.33" y1="368.14" x2="315.33" y2="354.15"/><line x1="312.13" y1="354.15" x2="318.53" y2="354.15"/><line x1="315.33" y1="368.14" x2="315.33" y2="382.14"/><line x1="312.13" y1="382.14" x2="318.53" y2="382.14"/><line x1="319.35" y1="363.32" x2="319.35" y2="349.33"/><line x1="316.15" y1="349.33" x2="322.55" y2="349.33"/><line x1="319.35" y1="363.32" x2="319.35" y2="377.32"/><line x1="316.15" y1="377.32" x2="322.55" y2="377.32"/><line x1="323.38" y1="368.69" x2="323.38" y2="354.69"/><line x1="320.18" y1="354.69" x2="326.58" y2="354.69"/><line x1="323.38" y1="368.69" x2="323.38" y2="382.68"/><line x1="320.18" y1="382.68" x2="326.58" y2="382.68"/><line x1="327.40" y1="362.62" x2="327.40" y2="348.63"/><line x1="324.20" y1="348.63" x2="330.60" y2="348.63"/><line x1="327.40" y1="362.62" x2="327.40" y2="376.62"/><line x1="324.20" y1="376.62" x2="330.60" y2="376.62"/><line x1="331.43" y1="366.04" x2="331.43" y2="352.05"/><line x1="328.23" y1="352.05" x2="334.63" y2="352.05"/><line x1="331.43" y1="366.04" x2="331.43" y2="380.04"/><line x1="328.23" y1="380.04" x2="334.63" y2="380.04"/><line x1="335.46" y1="366.04" x2="335.46" y2="352.05"/><line x1="332.26" y1="352.05" x2="338.66" y2="352.05"/><line x1="335.46" y1="366.04" x2="335.46" y2="380.04"/><line x1="332.26" y1="380.04" x2="338.66" y2="380.04"/><line x1="339.48" y1="368.69" x2="339.48" y2="354.69"/><line x1="336.28" y1="354.69" x2="342.68" y2="354.69"/><line x1="339.48" y1="368.69" x2="339.48" y2="382.68"/><line x1="336.28" y1="382.68" x2="342.68" y2="382.68"/><line x1="343.51" y1="364.72" x2="343.51" y2="350.73"/><line x1="340.31" y1="350.73" x2="346.71" y2="350.73"/><line x1="343.51" y1="364.72" x2="343.51" y2="378.72"/><line x1="340.31" y1="378.72" x2="346.71" y2="378.72"/><line x1="347.53" y1="370.09" x2="347.53" y2="356.09"/><line x1="344.33" y1="356.09" x2="350.73" y2="356.09"/><line x1="347.53" y1="370.09" x2="347.53" y2="384.08"/><line x1="344.33" y1="384.08" x2="350.73" y2="384.08"/><line x1="351.56" y1="368.69" x2="351.56" y2="354.69"/><line x1="348.36" y1="354.69" x2="354.76" y2="354.69"/><line x1="351.56" y1="368.69" x2="351.56" y2="382.68"/><line x1="348.36" y1="382.68" x2="354.76" y2="382.68"/><line x1="355.59" y1="368.69" x2="355.59" y2="354.69"/><line x1="352.39" y1="354.69" x2="358.79" y2="354.69"/><line x1="355.59" y1="368.69" x2="355.59" y2="382.68"/><line x1="352.39" y1="382.68" x2="358.79" y2="382.68"/><line x1="359.61" y1="370.09" x2="359.61" y2="356.09"/><line x1="356.41" y1="356.09" x2="362.81" y2="356.09"/><line x1="359.61" y1="370.09" x2="359.61" y2="384.08"/><line x1="356.41" y1="384.08" x2="362.81" y2="384.08"/><line x1="363.64" y1="374.21" x2="363.64" y2="360.21"/><line x1="360.44" y1="360.21" x2="366.84" y2="360.21"/><line x1="363.64" y1="374.21" x2="363.64" y2="388.20"/><line x1="360.44" y1="388.20" x2="366.84" y2="388.20"/><line x1="367.66" y1="366.04" x2="367.66" y2="352.05"/><line x1="364.46" y1="352.05" x2="370.86" y2="352.05"/><line x1="367.66" y1="366.04" x2="367.66" y2="380.04"/><line x1="364.46" y1="380.04" x2="370.86" y2="380.04"/><line x1="371.69" y1="370.79" x2="371.69" y2="356.79"/><line x1="368.49" y1="356.79" x2="374.89" y2="356.79"/><line x1="371.69" y1="370.79" x2="371.69" y2="384.78"/><line x1="368.49" y1="384.78" x2="374.89" y2="384.78"/><line x1="375.72" y1="370.79" x2="375.72" y2="356.79"/><line x1="372.52" y1="356.79" x2="378.92" y2="356.79"/><line x1="375.72" y1="370.79" x2="375.72" y2="384.78"/><line x1="372.52" y1="384.78" x2="378.92" y2="384.78"/><line x1="379.74" y1="368.69" x2="379.74" y2="354.69"/><line x1="376.54" y1="354.69" x2="382.94" y2="354.69"/><line x1="379.74" y1="368.69" x2="379.74" y2="382.68"/><line x1="376.54" y1="382.68" x2="382.94" y2="382.68"/><line x1="383.77" y1="357.26" x2="383.77" y2="343.26"/><line x1="380.57" y1="343.26" x2="386.97" y2="343.26"/><line x1="383.77" y1="357.26" x2="383.77" y2="371.25"/><line x1="380.57" y1="371.25" x2="386.97" y2="371.25"/><line x1="387.79" y1="355.24" x2="387.79" y2="341.24"/><line x1="384.59" y1="341.24" x2="390.99" y2="341.24"/><line x1="387.79" y1="355.24" x2="387.79" y2="369.23"/><line x1="384.59" y1="369.23" x2="390.99" y2="369.23"/><line x1="391.82" y1="363.32" x2="391.82" y2="349.33"/><line x1="388.62" y1="349.33" x2="395.02" y2="349.33"/><line x1="391.82" y1="363.32" x2="391.82" y2="377.32"/><line x1="388.62" y1="377.32" x2="395.02" y2="377.32"/><line x1="395.85" y1="362.62" x2="395.85" y2="348.63"/><line x1="392.65" y1="348.63" x2="399.05" y2="348.63"/><line x1="395.85" y1="362.62" x2="395.85" y2="376.62"/><line x1="392.65" y1="376.62" x2="399.05" y2="376.62"/><line x1="399.87" y1="362.00" x2="399.87" y2="348.01"/><line x1="396.67" y1="348.01" x2="403.07" y2="348.01"/><line x1="399.87" y1="362.00" x2="399.87" y2="376.00"/><line x1="396.67" y1="376.00" x2="403.07" y2="376.00"/><line x1="403.90" y1="360.60" x2="403.90" y2="346.61"/><line x1="400.70" y1="346.61" x2="407.10" y2="346.61"/><line x1="403.90" y1="360.60" x2="403.90" y2="374.60"/><line x1="400.70" y1="374.60" x2="407.10" y2="374.60"/><line x1="407.92" y1="363.32" x2="407.92" y2="349.33"/><line x1="404.72" y1="349.33" x2="411.12" y2="349.33"/><line x1="407.92" y1="363.32" x2="407.92" y2="377.32"/><line x1="404.72" y1="377.32" x2="411.12" y2="377.32"/><line x1="411.95" y1="369.46" x2="411.95" y2="355.47"/><line x1="408.75" y1="355.47" x2="415.15" y2="355.47"/><line x1="411.95" y1="369.46" x2="411.95" y2="383.46"/><line x1="408.75" y1="383.46" x2="415.15" y2="383.46"/><line x1="415.98" y1="366.74" x2="415.98" y2="352.75"/><line x1="412.78" y1="352.75" x2="419.18" y2="352.75"/><line x1="415.98" y1="366.74" x2="415.98" y2="380.74"/><line x1="412.78" y1="380.74" x2="419.18" y2="380.74"/><line x1="420.00" y1="370.09" x2="420.00" y2="356.09"/><line x1="416.80" y1="356.09" x2="423.20" y2="356.09"/><line x1="420.00" y1="370.09" x2="420.00" y2="384.08"/><line x1="416.80" y1="384.08" x2="423.20" y2="384.08"/><line x1="424.03" y1="379.57" x2="424.03" y2="367.13"/><line x1="420.83" y1="367.13" x2="427.23" y2="367.13"/><line x1="424.03" y1="379.57" x2="424.03" y2="392.01"/><line x1="420.83" y1="392.01" x2="427.23" y2="392.01"/><line x1="428.05" y1="379.57" x2="428.05" y2="367.13"/><line x1="424.85" y1="367.13" x2="431.25" y2="367.13"/><line x1="428.05" y1="379.57" x2="428.05" y2="392.01"/><line x1="424.85" y1="392.01" x2="431.25" y2="392.01"/><line x1="432.08" y1="380.89" x2="432.08" y2="368.45"/><line x1="428.88" y1="368.45" x2="435.28" y2="368.45"/><line x1="432.08" y1="380.89" x2="432.08" y2="393.33"/><line x1="428.88" y1="393.33" x2="435.28" y2="393.33"/><line x1="436.11" y1="382.29" x2="436.11" y2="369.85"/><line x1="432.91" y1="369.85" x2="439.31" y2="369.85"/><line x1="436.11" y1="382.29" x2="436.11" y2="394.73"/><line x1="432.91" y1="394.73" x2="439.31" y2="394.73"/><line x1="440.13" y1="382.29" x2="440.13" y2="369.85"/><line x1="436.93" y1="369.85" x2="443.33" y2="369.85"/><line x1="440.13" y1="382.29" x2="440.13" y2="394.73"/><line x1="436.93" y1="394.73" x2="443.33" y2="394.73"/><line x1="444.16" y1="382.29" x2="444.16" y2="369.85"/><line x1="440.96" y1="369.85" x2="447.36" y2="369.85"/><line x1="444.16" y1="382.29" x2="444.16" y2="394.73"/><line x1="440.96" y1="394.73" x2="447.36" y2="394.73"/><line x1="448.18" y1="382.99" x2="448.18" y2="370.55"/><line x1="444.98" y1="370.55" x2="451.38" y2="370.55"/><line x1="448.18" y1="382.99" x2="448.18" y2="395.43"/><line x1="444.98" y1="395.43" x2="451.38" y2="395.43"/><line x1="452.21" y1="381.59" x2="452.21" y2="369.15"/><line x1="449.01" y1="369.15" x2="455.41" y2="369.15"/><line x1="452.21" y1="381.59" x2="452.21" y2="394.03"/><line x1="449.01" y1="394.03" x2="455.41" y2="394.03"/><line x1="456.24" y1="385.01" x2="456.24" y2="372.57"/><line x1="453.04" y1="372.57" x2="459.44" y2="372.57"/><line x1="456.24" y1="385.01" x2="456.24" y2="397.45"/><line x1="453.04" y1="397.45" x2="459.44" y2="397.45"/><line x1="460.26" y1="390.46" x2="460.26" y2="378.02"/><line x1="457.06" y1="378.02" x2="463.46" y2="378.02"/><line x1="460.26" y1="390.46" x2="460.26" y2="402.90"/><line x1="457.06" y1="402.90" x2="463.46" y2="402.90"/><line x1="464.29" y1="389.14" x2="464.29" y2="376.70"/><line x1="461.09" y1="376.70" x2="467.49" y2="376.70"/><line x1="464.29" y1="389.14" x2="464.29" y2="401.58"/><line x1="461.09" y1="401.58" x2="467.49" y2="401.58"/><line x1="468.31" y1="388.44" x2="468.31" y2="376.00"/><line x1="465.11" y1="376.00" x2="471.51" y2="376.00"/><line x1="468.31" y1="388.44" x2="468.31" y2="400.88"/><line x1="465.11" y1="400.88" x2="471.51" y2="400.88"/><line x1="472.34" y1="389.84" x2="472.34" y2="377.40"/><line x1="469.14" y1="377.40" x2="475.54" y2="377.40"/><line x1="472.34" y1="389.84" x2="472.34" y2="402.28"/><line x1="469.14" y1="402.28" x2="475.54" y2="402.28"/><line x1="476.37" y1="390.07" x2="476.37" y2="377.63"/><line x1="473.17" y1="377.63" x2="479.57" y2="377.63"/><line x1="476.37" y1="390.07" x2="476.37" y2="402.51"/><line x1="473.17" y1="402.51" x2="479.57" y2="402.51"/><line x1="480.39" y1="390.07" x2="480.39" y2="377.63"/><line x1="477.19" y1="377.63" x2="483.59" y2="377.63"/><line x1="480.39" y1="390.07" x2="480.39" y2="402.51"/><line x1="477.19" y1="402.51" x2="483.59" y2="402.51"/><line x1="484.42" y1="390.85" x2="484.42" y2="378.41"/><line x1="481.22" y1="378.41" x2="487.62" y2="378.41"/><line x1="484.42" y1="390.85" x2="484.42" y2="403.29"/><line x1="481.22" y1="403.29" x2="487.62" y2="403.29"/><line x1="488.44" y1="392.71" x2="488.44" y2="380.27"/><line x1="485.24" y1="380.27" x2="491.64" y2="380.27"/><line x1="488.44" y1="392.71" x2="488.44" y2="405.15"/><line x1="485.24" y1="405.15" x2="491.64" y2="405.15"/><line x1="492.47" y1="389.91" x2="492.47" y2="377.47"/><line x1="489.27" y1="377.47" x2="495.67" y2="377.47"/><line x1="492.47" y1="389.91" x2="492.47" y2="402.35"/><line x1="489.27" y1="402.35" x2="495.67" y2="402.35"/><line x1="496.50" y1="388.51" x2="496.50" y2="376.07"/><line x1="493.30" y1="376.07" x2="499.70" y2="376.07"/><line x1="496.50" y1="388.51" x2="496.50" y2="400.95"/><line x1="493.30" y1="400.95" x2="499.70" y2="400.95"/><line x1="500.52" y1="388.51" x2="500.52" y2="376.07"/><line x1="497.32" y1="376.07" x2="503.72" y2="376.07"/><line x1="500.52" y1="388.51" x2="500.52" y2="400.95"/><line x1="497.32" y1="400.95" x2="503.72" y2="400.95"/><line x1="504.55" y1="388.51" x2="504.55" y2="376.07"/><line x1="501.35" y1="376.07" x2="507.75" y2="376.07"/><line x1="504.55" y1="388.51" x2="504.55" y2="400.95"/><line x1="501.35" y1="400.95" x2="507.75" y2="400.95"/><line x1="508.57" y1="389.29" x2="508.57" y2="376.85"/><line x1="505.37" y1="376.85" x2="511.77" y2="376.85"/><line x1="508.57" y1="389.29" x2="508.57" y2="401.73"/><line x1="505.37" y1="401.73" x2="511.77" y2="401.73"/><line x1="512.60" y1="386.96" x2="512.60" y2="374.52"/><line x1="509.40" y1="374.52" x2="515.80" y2="374.52"/><line x1="512.60" y1="386.96" x2="512.60" y2="399.40"/><line x1="509.40" y1="399.40" x2="515.80" y2="399.40"/><line x1="516.63" y1="386.18" x2="516.63" y2="373.74"/><line x1="513.43" y1="373.74" x2="519.83" y2="373.74"/><line x1="516.63" y1="386.18" x2="516.63" y2="398.62"/><line x1="513.43" y1="398.62" x2="519.83" y2="398.62"/><line x1="520.65" y1="386.18" x2="520.65" y2="373.74"/><line x1="517.45" y1="373.74" x2="523.85" y2="373.74"/><line x1="520.65" y1="386.18" x2="520.65" y2="398.62"/><line x1="517.45" y1="398.62" x2="523.85" y2="398.62"/><line x1="524.68" y1="386.96" x2="524.68" y2="374.52"/><line x1="521.48" y1="374.52" x2="527.88" y2="374.52"/><line x1="524.68" y1="386.96" x2="524.68" y2="399.40"/><line x1="521.48" y1="399.40" x2="527.88" y2="399.40"/><line x1="528.70" y1="385.64" x2="528.70" y2="373.20"/><line x1="525.50" y1="373.20" x2="531.90" y2="373.20"/><line x1="528.70" y1="385.64" x2="528.70" y2="398.08"/><line x1="525.50" y1="398.08" x2="531.90" y2="398.08"/><line x1="532.73" y1="385.64" x2="532.73" y2="373.20"/><line x1="529.53" y1="373.20" x2="535.93" y2="373.20"/><line x1="532.73" y1="385.64" x2="532.73" y2="398.08"/><line x1="529.53" y1="398.08" x2="535.93" y2="398.08"/><line x1="536.76" y1="384.94" x2="536.76" y2="372.50"/><line x1="533.56" y1="372.50" x2="539.96" y2="372.50"/><line x1="536.76" y1="384.94" x2="536.76" y2="397.38"/><line x1="533.56" y1="397.38" x2="539.96" y2="397.38"/><line x1="540.78" y1="384.94" x2="540.78" y2="372.50"/><line x1="537.58" y1="372.50" x2="543.98" y2="372.50"/><line x1="540.78" y1="384.94" x2="540.78" y2="397.38"/><line x1="537.58" y1="397.38" x2="543.98" y2="397.38"/><line x1="544.81" y1="386.18" x2="544.81" y2="373.74"/><line x1="541.61" y1="373.74" x2="548.01" y2="373.74"/><line x1="544.81" y1="386.18" x2="544.81" y2="398.62"/><line x1="541.61" y1="398.62" x2="548.01" y2="398.62"/><line x1="548.83" y1="385.64" x2="548.83" y2="373.20"/><line x1="545.63" y1="373.20" x2="552.03" y2="373.20"/><line x1="548.83" y1="385.64" x2="548.83" y2="398.08"/><line x1="545.63" y1="398.08" x2="552.03" y2="398.08"/><line x1="552.86" y1="386.18" x2="552.86" y2="373.74"/><line x1="549.66" y1="373.74" x2="556.06" y2="373.74"/><line x1="552.86" y1="386.18" x2="552.86" y2="398.62"/><line x1="549.66" y1="398.62" x2="556.06" y2="398.62"/></g>
<g fill="#ff0000"><path d="M110.00 400.07L114.70 408.67L105.30 408.67Z"/><path d="M114.03 390.74L118.73 399.34L109.33 399.34Z"/><path d="M118.05 389.18L122.75 397.78L113.35 397.78Z"/><path d="M122.08 391.52L126.78 400.12L117.38 400.12Z"/><path d="M126.10 389.96L130.80 398.56L121.40 398.56Z"/><path d="M130.13 381.02L134.83 389.62L125.43 389.62Z"/><path d="M134.16 390.74L138.86 399.34L129.46 399.34Z"/><path d="M138.18 391.52L142.88 400.12L133.48 400.12Z"/><path d="M142.21 389.96L146.91 398.56L137.51 398.56Z"/><path d="M146.23 392.29L150.93 400.89L141.53 400.89Z"/><path d="M150.26 390.74L154.96 399.34L145.56 399.34Z"/><path d="M154.29 391.52L158.99 400.12L149.59 400.12Z"/><path d="M158.31 389.96L163.01 398.56L153.61 398.56Z"/><path d="M162.34 392.29L167.04 400.89L157.64 400.89Z"/><path d="M166.36 390.74L171.06 399.34L161.66 399.34Z"/><path d="M170.39 391.52L175.09 400.12L165.69 400.12Z"/><path d="M174.42 393.07L179.12 401.67L169.72 401.67Z"/><path d="M178.44 394.63L183.14 403.23L173.74 403.23Z"/><path d="M182.47 393.85L187.17 402.45L177.77 402.45Z"/><path d="M186.49 395.40L191.19 404.00L181.79 404.00Z"/><path d="M190.52 399.76L195.22 408.36L185.82 408.36Z"/><path d="M194.55 394.63L199.25 403.23L189.85 403.23Z"/><path d="M198.57 396.18L203.27 404.78L193.87 404.78Z"/><path d="M202.60 393.85L207.30 402.45L197.90 402.45Z"/><path d="M206.62 395.40L211.32 404.00L201.92 404.00Z"/><path d="M210.65 394.63L215.35 403.23L205.95 403.23Z"/><path d="M214.68 396.96L219.38 405.56L209.98 405.56Z"/><path d="M218.70 395.40L223.40 404.00L214.00 404.00Z"/><path d="M222.73 396.96L227.43 405.56L218.03 405.56Z"/><path d="M226.75 369.75L231.45 378.35L222.05 378.35Z"/><path d="M230.78 332.43L235.48 341.03L226.08 341.03Z"/><path d="M234.81 340.59L239.51 349.19L230.11 349.19Z"/><path d="M238.83 326.21L243.53 334.81L234.13 334.81Z"/><path d="M242.86 325.43L247.56 334.03L238.16 334.03Z"/><path d="M246.88 325.43L251.58 334.03L242.18 334.03Z"/><path d="M250.91 330.87L255.61 339.47L246.21 339.47Z"/><path d="M254.94 335.77L259.64 344.37L250.24 344.37Z"/><path d="M258.96 336.31L263.66 344.91L254.26 344.91Z"/><path d="M262.99 343.31L267.69 351.91L258.29 351.91Z"/><path d="M267.01 342.53L271.71 351.13L262.31 351.13Z"/><path d="M271.04 347.51L275.74 356.11L266.34 356.11Z"/><path d="M275.07 339.81L279.77 348.41L270.37 348.41Z"/><path d="M279.09 347.51L283.79 356.11L274.39 356.11Z"/><path d="M283.12 346.81L287.82 355.41L278.42 355.41Z"/><path d="M287.14 346.03L291.84 354.63L282.44 354.63Z"/><path d="M291.17 354.97L295.87 363.57L286.47 363.57Z"/><path d="M295.20 357.31L299.90 365.91L290.50 365.91Z"/><path d="M299.22 357.31L303.92 365.91L294.52 365.91Z"/><path d="M303.25 357.31L307.95 365.91L298.55 365.91Z"/><path d="M307.27 356.84L311.97 365.44L302.57 365.44Z"/><path d="M311.30 362.28L316.00 370.88L306.60 370.88Z"/><path d="M315.33 362.98L320.03 371.58L310.63 371.58Z"/><path d="M319.35 358.16L324.05 366.76L314.65 366.76Z"/><path d="M323.38 363.53L328.08 372.13L318.68 372.13Z"/><path d="M327.40 357.46L332.10 366.06L322.70 366.06Z"/><path d="M331.43 360.88L336.13 369.48L326.73 369.48Z"/><path d="M335.46 360.88L340.16 369.48L330.76 369.48Z"/><path d="M339.48 363.53L344.18 372.13L334.78 372.13Z"/><path d="M343.51 359.56L348.21 368.16L338.81 368.16Z"/><path d="M347.53 364.93L352.23 373.53L342.83 373.53Z"/><path d="M351.56 363.53L356.26 372.13L346.86 372.13Z"/><path d="M355.59 363.53L360.29 372.13L350.89 372.13Z"/><path d="M359.61 364.93L364.31 373.53L354.91 373.53Z"/><path d="M363.64 369.05L368.34 377.65L358.94 377.65Z"/><path d="M367.66 360.88L372.36 369.48L362.96 369.48Z"/><path d="M371.69 365.63L376.39 374.23L366.99 374.23Z"/><path d="M375.72 365.63L380.42 374.23L371.02 374.23Z"/><path d="M379.74 363.53L384.44 372.13L375.04 372.13Z"/><path d="M383.77 352.10L388.47 360.70L379.07 360.70Z"/><path d="M387.79 350.08L392.49 358.68L383.09 358.68Z"/><path d="M391.82 358.16L396.52 366.76L387.12 366.76Z"/><path d="M395.85 357.46L400.55 366.06L391.15 366.06Z"/><path d="M399.87 356.84L404.57 365.44L395.17 365.44Z"/><path d="M403.90 355.44L408.60 364.04L399.20 364.04Z"/><path d="M407.92 358.16L412.62 366.76L403.22 366.76Z"/><path d="M411.95 364.30L416.65 372.90L407.25 372.90Z"/><path d="M415.98 361.58L420.68 370.18L411.28 370.18Z"/><path d="M420.00 364.93L424.70 373.53L415.30 373.53Z"/><path d="M424.03 374.41L428.73 383.01L419.33 383.01Z"/><path d="M428.05 374.41L432.75 383.01L423.35 383.01Z"/><path d="M432.08 375.73L436.78 384.33L427.38 384.33Z"/><path d="M436.11 377.13L440.81 385.73L431.41 385.73Z"/><path d="M440.13 377.13L444.83 385.73L435.43 385.73Z"/><path d="M444.16 377.13L448.86 385.73L439.46 385.73Z"/><path d="M448.18 377.83L452.88 386.43L443.48 386.43Z"/><path d="M452.21 376.43L456.91 385.03L447.51 385.03Z"/><path d="M456.24 379.85L460.94 388.45L451.54 388.45Z"/><path d="M460.26 385.30L464.96 393.90L455.56 393.90Z"/><path d="M464.29 383.98L468.99 392.58L459.59 392.58Z"/><path d="M468.31 383.28L473.01 391.88L463.61 391.88Z"/><path d="M472.34 384.68L477.04 393.28L467.64 393.28Z"/><path d="M476.37 384.91L481.07 393.51L471.67 393.51Z"/><path d="M480.39 384.91L485.09 393.51L475.69 393.51Z"/><path d="M484.42 385.69L489.12 394.29L479.72 394.29Z"/><path d="M488.44 387.55L493.14 396.15L483.74 396.15Z"/><path d="M492.47 384.75L497.17 393.35L487.77 393.35Z"/><path d="M496.50 383.35L501.20 391.95L491.80 391.95Z"/><path d="M500.52 383.35L505.22 391.95L495.82 391.95Z"/><path d="M504.55 383.35L509.25 391.95L499.85 391.95Z"/><path d="M508.57 384.13L513.27 392.73L503.87 392.73Z"/><path d="M512.60 381.80L517.30 390.40L507.90 390.40Z"/><path d="M516.63 381.02L521.33 389.62L511.93 389.62Z"/><path d="M520.65 381.02L525.35 389.62L515.95 389.62Z"/><path d="M524.68 381.80L529.38 390.40L519.98 390.40Z"/><path d="M528.70 380.48L533.40 389.08L524.00 389.08Z"/><path d="M532.73 380.48L537.43 389.08L528.03 389.08Z"/><path d="M536.76 379.78L541.46 388.38L532.06 388.38Z"/><path d="M540.78 379.78L545.48 388.38L536.08 388.38Z"/><path d="M544.81 381.02L549.51 389.62L540.11 389.62Z"/><path d="M548.83 380.48L553.53 389.08L544.13 389.08Z"/><path d="M552.86 381.02L557.56 389.62L548.16 389.62Z"/></g>
</g>

<!-- ================= panel b ================= -->
<text transform="translate(189.2,665.7) rotate(-90)" text-anchor="middle" class="sans" font-size="15.2" fill="#111">PopSpike Slope (% of BL)</text>
<text transform="translate(208.4,666.4) rotate(-90)" text-anchor="middle" class="sans" font-size="15.2" fill="#111">80&#8217; from tetanic stimulation</text>
<line x1="254.6" y1="565.50" x2="254.6" y2="746.50" stroke="#444" stroke-width="1.1"/>
<line x1="251.3" y1="746.00" x2="254.6" y2="746.00" stroke="#444" stroke-width="1.1"/>
<text transform="translate(248.5,750.30) rotate(-45)" text-anchor="end" class="tb">100</text>
<line x1="252.6" y1="723.44" x2="254.6" y2="723.44" stroke="#444" stroke-width="1.1"/>
<line x1="251.3" y1="700.88" x2="254.6" y2="700.88" stroke="#444" stroke-width="1.1"/>
<text transform="translate(248.5,705.17) rotate(-45)" text-anchor="end" class="tb">150</text>
<line x1="252.6" y1="678.31" x2="254.6" y2="678.31" stroke="#444" stroke-width="1.1"/>
<line x1="251.3" y1="655.75" x2="254.6" y2="655.75" stroke="#444" stroke-width="1.1"/>
<text transform="translate(248.5,660.05) rotate(-45)" text-anchor="end" class="tb">200</text>
<line x1="252.6" y1="633.19" x2="254.6" y2="633.19" stroke="#444" stroke-width="1.1"/>
<line x1="251.3" y1="610.62" x2="254.6" y2="610.62" stroke="#444" stroke-width="1.1"/>
<text transform="translate(248.5,614.92) rotate(-45)" text-anchor="end" class="tb">250</text>
<line x1="252.6" y1="588.06" x2="254.6" y2="588.06" stroke="#444" stroke-width="1.1"/>
<line x1="251.3" y1="565.50" x2="254.6" y2="565.50" stroke="#444" stroke-width="1.1"/>
<text transform="translate(248.5,569.80) rotate(-45)" text-anchor="end" class="tb">300</text>
<g fill="#000">
<rect x="262.3" y="639.4" width="60" height="106.6"/>
<rect x="337.5" y="648.7" width="60.5" height="97.3"/>
<rect x="412.8" y="740.1" width="60.7" height="5.9"/>
</g>
<g stroke="#111" stroke-width="1.1">
<line x1="292.3" y1="640" x2="292.3" y2="623.9"/><line x1="289.5" y1="623.9" x2="295.5" y2="623.9"/>
<line x1="368" y1="648.7" x2="368" y2="615"/><line x1="365" y1="615" x2="371" y2="615"/>
<line x1="443" y1="740.1" x2="443" y2="715.2"/><line x1="440" y1="715.2" x2="446" y2="715.2"/>
</g>
<text x="443" y="715" text-anchor="middle" class="sans" font-weight="bold" font-size="24" fill="#111" dy="1.5">**</text>
<g class="sans" font-weight="bold" font-size="15" fill="#000">
<text transform="translate(294,605) rotate(-45)">CTRL</text>
<text transform="translate(370,605) rotate(-45)">sCT Monomers</text>
<text transform="translate(445,605) rotate(-45)">sCT PFOs</text>
</g>
</svg>
</body></html>
